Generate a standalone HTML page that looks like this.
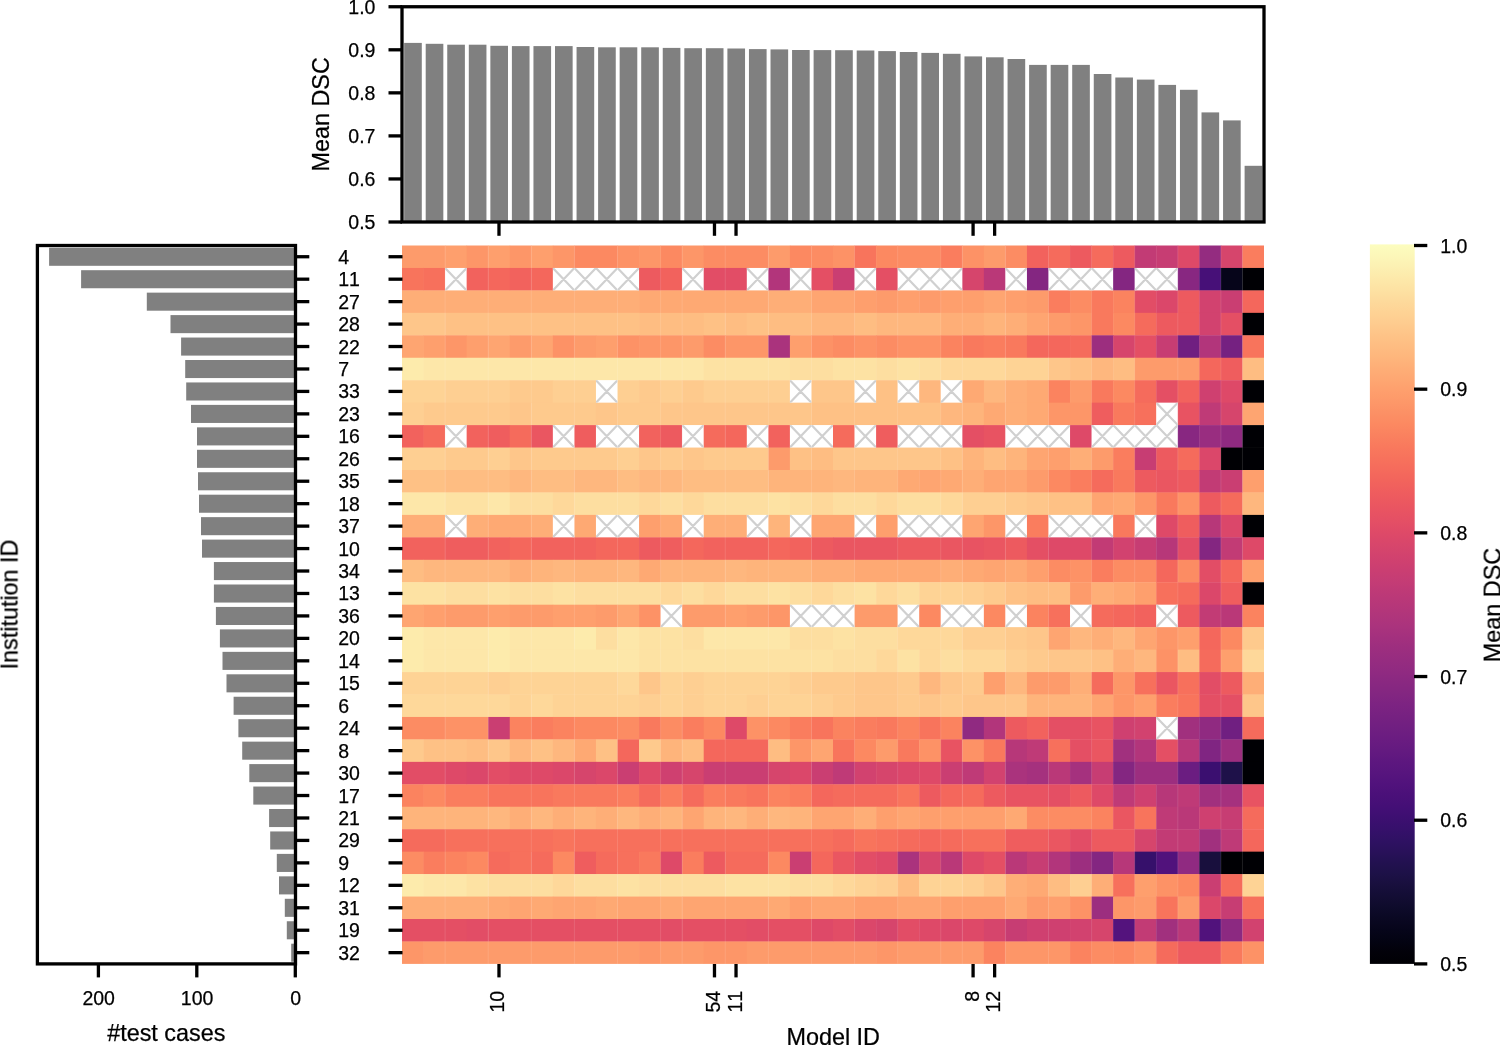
<!DOCTYPE html>
<html><head><meta charset="utf-8"><title>Mean DSC heatmap</title>
<style>html,body{margin:0;padding:0;background:#fff}svg{display:block}text{font-family:"Liberation Sans",sans-serif;fill:#000;stroke:#000;stroke-width:0.25px;font-kerning:none}.tx{filter:grayscale(1)}.t{font-size:19.5px}.l{font-size:23.4px}</style></head><body>
<svg width="1500" height="1045" viewBox="0 0 1500 1045">
<rect width="1500" height="1045" fill="#fff"/>
<g fill="#808080">
<rect x="404.15" y="42.9" width="17.64" height="179.1"/>
<rect x="425.7" y="43.8" width="17.64" height="178.2"/>
<rect x="447.25" y="44.7" width="17.64" height="177.3"/>
<rect x="468.81" y="44.7" width="17.64" height="177.3"/>
<rect x="490.36" y="45.8" width="17.64" height="176.2"/>
<rect x="511.9" y="46.1" width="17.64" height="175.9"/>
<rect x="533.45" y="46.1" width="17.64" height="175.9"/>
<rect x="555" y="46.1" width="17.64" height="175.9"/>
<rect x="576.56" y="47" width="17.64" height="175"/>
<rect x="598.11" y="47.3" width="17.64" height="174.7"/>
<rect x="619.65" y="47.3" width="17.64" height="174.7"/>
<rect x="641.21" y="47.3" width="17.64" height="174.7"/>
<rect x="662.75" y="47.9" width="17.64" height="174.1"/>
<rect x="684.31" y="48.2" width="17.64" height="173.8"/>
<rect x="705.86" y="48.2" width="17.64" height="173.8"/>
<rect x="727.4" y="48.5" width="17.64" height="173.5"/>
<rect x="748.96" y="49.1" width="17.64" height="172.9"/>
<rect x="770.51" y="49.4" width="17.64" height="172.6"/>
<rect x="792.06" y="50" width="17.64" height="172"/>
<rect x="813.61" y="50.1" width="17.64" height="171.9"/>
<rect x="835.15" y="50.2" width="17.64" height="171.8"/>
<rect x="856.71" y="50.5" width="17.64" height="171.5"/>
<rect x="878.26" y="51.1" width="17.64" height="170.9"/>
<rect x="899.81" y="52" width="17.64" height="170"/>
<rect x="921.36" y="52.9" width="17.64" height="169.1"/>
<rect x="942.91" y="53.8" width="17.64" height="168.2"/>
<rect x="964.46" y="56.4" width="17.64" height="165.6"/>
<rect x="986" y="57.3" width="17.64" height="164.7"/>
<rect x="1007.56" y="59" width="17.64" height="163"/>
<rect x="1029.11" y="64.9" width="17.64" height="157.1"/>
<rect x="1050.66" y="64.9" width="17.64" height="157.1"/>
<rect x="1072.2" y="64.9" width="17.64" height="157.1"/>
<rect x="1093.76" y="74" width="17.64" height="148"/>
<rect x="1115.31" y="77.5" width="17.64" height="144.5"/>
<rect x="1136.86" y="79.6" width="17.64" height="142.4"/>
<rect x="1158.41" y="84.9" width="17.64" height="137.1"/>
<rect x="1179.95" y="89.8" width="17.64" height="132.2"/>
<rect x="1201.51" y="112.4" width="17.64" height="109.6"/>
<rect x="1223.06" y="120.4" width="17.64" height="101.6"/>
<rect x="1244.61" y="165.8" width="17.64" height="56.2"/>
</g>
<g stroke="#000" stroke-width="3.3" fill="none">
<rect x="402" y="6.75" width="862" height="215.25"/>
<path d="M402 6.75H388.5"/>
<path d="M402 49.8H388.5"/>
<path d="M402 92.85H388.5"/>
<path d="M402 135.9H388.5"/>
<path d="M402 178.95H388.5"/>
<path d="M402 222H388.5"/>
<path d="M498.98 222V235.8"/>
<path d="M714.48 222V235.8"/>
<path d="M736.03 222V235.8"/>
<path d="M973.08 222V235.8"/>
<path d="M994.62 222V235.8"/>
</g>
<g fill="#808080">
<rect x="49.1" y="247.75" width="246.4" height="18.06"/>
<rect x="81.1" y="270.19" width="214.4" height="18.06"/>
<rect x="146.8" y="292.64" width="148.7" height="18.06"/>
<rect x="170.5" y="315.1" width="125" height="18.06"/>
<rect x="181.1" y="337.54" width="114.4" height="18.06"/>
<rect x="185.2" y="360" width="110.3" height="18.06"/>
<rect x="186.2" y="382.44" width="109.3" height="18.06"/>
<rect x="191" y="404.89" width="104.5" height="18.06"/>
<rect x="197" y="427.35" width="98.5" height="18.06"/>
<rect x="197" y="449.79" width="98.5" height="18.06"/>
<rect x="198" y="472.25" width="97.5" height="18.06"/>
<rect x="199" y="494.69" width="96.5" height="18.06"/>
<rect x="201" y="517.14" width="94.5" height="18.06"/>
<rect x="202" y="539.6" width="93.5" height="18.06"/>
<rect x="213.9" y="562.04" width="81.6" height="18.06"/>
<rect x="213.9" y="584.5" width="81.6" height="18.06"/>
<rect x="215.9" y="606.94" width="79.6" height="18.06"/>
<rect x="219.9" y="629.39" width="75.6" height="18.06"/>
<rect x="222.5" y="651.85" width="73" height="18.06"/>
<rect x="226.5" y="674.3" width="69" height="18.06"/>
<rect x="233.6" y="696.75" width="61.9" height="18.06"/>
<rect x="238.4" y="719.19" width="57.1" height="18.06"/>
<rect x="242.2" y="741.64" width="53.3" height="18.06"/>
<rect x="249.3" y="764.1" width="46.2" height="18.06"/>
<rect x="253.3" y="786.54" width="42.2" height="18.06"/>
<rect x="269.1" y="809" width="26.4" height="18.06"/>
<rect x="270.2" y="831.45" width="25.3" height="18.06"/>
<rect x="276.8" y="853.89" width="18.7" height="18.06"/>
<rect x="279" y="876.35" width="16.5" height="18.06"/>
<rect x="284.8" y="898.79" width="10.7" height="18.06"/>
<rect x="286.8" y="921.25" width="8.7" height="18.06"/>
<rect x="291.2" y="943.7" width="4.3" height="18.06"/>
</g>
<g stroke="#000" stroke-width="3.3" fill="none">
<rect x="37.4" y="245.5" width="258.1" height="718.4"/>
<path d="M295.5 256.73H309.3"/>
<path d="M295.5 279.18H309.3"/>
<path d="M295.5 301.62H309.3"/>
<path d="M295.5 324.07H309.3"/>
<path d="M295.5 346.52H309.3"/>
<path d="M295.5 368.98H309.3"/>
<path d="M295.5 391.42H309.3"/>
<path d="M295.5 413.88H309.3"/>
<path d="M295.5 436.32H309.3"/>
<path d="M295.5 458.77H309.3"/>
<path d="M295.5 481.23H309.3"/>
<path d="M295.5 503.68H309.3"/>
<path d="M295.5 526.12H309.3"/>
<path d="M295.5 548.58H309.3"/>
<path d="M295.5 571.02H309.3"/>
<path d="M295.5 593.47H309.3"/>
<path d="M295.5 615.92H309.3"/>
<path d="M295.5 638.38H309.3"/>
<path d="M295.5 660.83H309.3"/>
<path d="M295.5 683.27H309.3"/>
<path d="M295.5 705.72H309.3"/>
<path d="M295.5 728.17H309.3"/>
<path d="M295.5 750.62H309.3"/>
<path d="M295.5 773.07H309.3"/>
<path d="M295.5 795.52H309.3"/>
<path d="M295.5 817.98H309.3"/>
<path d="M295.5 840.42H309.3"/>
<path d="M295.5 862.88H309.3"/>
<path d="M295.5 885.32H309.3"/>
<path d="M295.5 907.77H309.3"/>
<path d="M295.5 930.23H309.3"/>
<path d="M295.5 952.67H309.3"/>
<path d="M98.4 963.9V977.4"/>
<path d="M196.8 963.9V977.4"/>
<path d="M295.3 963.9V977.4"/>
<path d="M498.98 963.9V977.4"/>
<path d="M714.48 963.9V977.4"/>
<path d="M736.03 963.9V977.4"/>
<path d="M973.08 963.9V977.4"/>
<path d="M994.62 963.9V977.4"/>
</g>
<g>
<rect x="402" y="245.5" width="43.5" height="22.85" fill="#fd9b6b"/>
<rect x="445.1" y="245.5" width="21.95" height="22.85" fill="#fe9f6d"/>
<rect x="466.65" y="245.5" width="21.95" height="22.85" fill="#fd9668"/>
<rect x="488.2" y="245.5" width="21.95" height="22.85" fill="#fe9f6d"/>
<rect x="509.75" y="245.5" width="21.95" height="22.85" fill="#fd9668"/>
<rect x="531.3" y="245.5" width="21.95" height="22.85" fill="#fe9f6d"/>
<rect x="552.85" y="245.5" width="21.95" height="22.85" fill="#fd9668"/>
<rect x="574.4" y="245.5" width="43.5" height="22.85" fill="#fc8961"/>
<rect x="617.5" y="245.5" width="21.95" height="22.85" fill="#fd9266"/>
<rect x="639.05" y="245.5" width="21.95" height="22.85" fill="#fd9668"/>
<rect x="660.6" y="245.5" width="21.95" height="22.85" fill="#fc8961"/>
<rect x="682.15" y="245.5" width="21.95" height="22.85" fill="#fd9668"/>
<rect x="703.7" y="245.5" width="65.05" height="22.85" fill="#fc8c63"/>
<rect x="768.35" y="245.5" width="21.95" height="22.85" fill="#fd9b6b"/>
<rect x="789.9" y="245.5" width="21.95" height="22.85" fill="#fc8961"/>
<rect x="811.45" y="245.5" width="21.95" height="22.85" fill="#fc8c63"/>
<rect x="833" y="245.5" width="21.95" height="22.85" fill="#fd9266"/>
<rect x="854.55" y="245.5" width="21.95" height="22.85" fill="#f8745c"/>
<rect x="876.1" y="245.5" width="21.95" height="22.85" fill="#fc8961"/>
<rect x="897.65" y="245.5" width="43.5" height="22.85" fill="#fc8c63"/>
<rect x="940.75" y="245.5" width="21.95" height="22.85" fill="#fa7d5e"/>
<rect x="962.3" y="245.5" width="21.95" height="22.85" fill="#fd9266"/>
<rect x="983.85" y="245.5" width="21.95" height="22.85" fill="#fd9b6b"/>
<rect x="1005.4" y="245.5" width="21.95" height="22.85" fill="#fc8c63"/>
<rect x="1026.95" y="245.5" width="21.95" height="22.85" fill="#f2625d"/>
<rect x="1048.5" y="245.5" width="21.95" height="22.85" fill="#f56b5c"/>
<rect x="1070.05" y="245.5" width="21.95" height="22.85" fill="#ed5a5f"/>
<rect x="1091.6" y="245.5" width="21.95" height="22.85" fill="#f56b5c"/>
<rect x="1113.15" y="245.5" width="21.95" height="22.85" fill="#ed5a5f"/>
<rect x="1134.7" y="245.5" width="21.95" height="22.85" fill="#c23b75"/>
<rect x="1156.25" y="245.5" width="21.95" height="22.85" fill="#c73d73"/>
<rect x="1177.8" y="245.5" width="21.95" height="22.85" fill="#de4968"/>
<rect x="1199.35" y="245.5" width="21.95" height="22.85" fill="#942c80"/>
<rect x="1220.9" y="245.5" width="21.95" height="22.85" fill="#d6456c"/>
<rect x="1242.45" y="245.5" width="21.55" height="22.85" fill="#fa7d5e"/>
<rect x="402" y="267.95" width="21.95" height="22.85" fill="#f8745c"/>
<rect x="423.55" y="267.95" width="21.95" height="22.85" fill="#f7705c"/>
<rect x="445.1" y="267.95" width="21.95" height="22.85" fill="#fff"/>
<rect x="466.65" y="267.95" width="21.95" height="22.85" fill="#f2625d"/>
<rect x="488.2" y="267.95" width="21.95" height="22.85" fill="#f4675c"/>
<rect x="509.75" y="267.95" width="21.95" height="22.85" fill="#f2625d"/>
<rect x="531.3" y="267.95" width="21.95" height="22.85" fill="#f4675c"/>
<rect x="552.85" y="267.95" width="86.6" height="22.85" fill="#fff"/>
<rect x="639.05" y="267.95" width="21.95" height="22.85" fill="#ed5a5f"/>
<rect x="660.6" y="267.95" width="21.95" height="22.85" fill="#f2625d"/>
<rect x="682.15" y="267.95" width="21.95" height="22.85" fill="#fff"/>
<rect x="703.7" y="267.95" width="43.5" height="22.85" fill="#e24d66"/>
<rect x="746.8" y="267.95" width="21.95" height="22.85" fill="#fff"/>
<rect x="768.35" y="267.95" width="21.95" height="22.85" fill="#b2357b"/>
<rect x="789.9" y="267.95" width="21.95" height="22.85" fill="#fff"/>
<rect x="811.45" y="267.95" width="21.95" height="22.85" fill="#e44f64"/>
<rect x="833" y="267.95" width="21.95" height="22.85" fill="#ca3e72"/>
<rect x="854.55" y="267.95" width="21.95" height="22.85" fill="#fff"/>
<rect x="876.1" y="267.95" width="21.95" height="22.85" fill="#e44f64"/>
<rect x="897.65" y="267.95" width="65.05" height="22.85" fill="#fff"/>
<rect x="962.3" y="267.95" width="21.95" height="22.85" fill="#d6456c"/>
<rect x="983.85" y="267.95" width="21.95" height="22.85" fill="#ba3878"/>
<rect x="1005.4" y="267.95" width="21.95" height="22.85" fill="#fff"/>
<rect x="1026.95" y="267.95" width="21.95" height="22.85" fill="#842681"/>
<rect x="1048.5" y="267.95" width="65.05" height="22.85" fill="#fff"/>
<rect x="1113.15" y="267.95" width="21.95" height="22.85" fill="#842681"/>
<rect x="1134.7" y="267.95" width="43.5" height="22.85" fill="#fff"/>
<rect x="1177.8" y="267.95" width="21.95" height="22.85" fill="#882781"/>
<rect x="1199.35" y="267.95" width="21.95" height="22.85" fill="#471078"/>
<rect x="1220.9" y="267.95" width="21.95" height="22.85" fill="#06051a"/>
<rect x="1242.45" y="267.95" width="21.55" height="22.85" fill="#000004"/>
<rect x="402" y="290.4" width="237.45" height="22.85" fill="#feae77"/>
<rect x="639.05" y="290.4" width="129.7" height="22.85" fill="#fea973"/>
<rect x="768.35" y="290.4" width="43.5" height="22.85" fill="#feae77"/>
<rect x="811.45" y="290.4" width="43.5" height="22.85" fill="#fea571"/>
<rect x="854.55" y="290.4" width="21.95" height="22.85" fill="#fe9f6d"/>
<rect x="876.1" y="290.4" width="21.95" height="22.85" fill="#fd9b6b"/>
<rect x="897.65" y="290.4" width="21.95" height="22.85" fill="#fe9f6d"/>
<rect x="919.2" y="290.4" width="21.95" height="22.85" fill="#fd9b6b"/>
<rect x="940.75" y="290.4" width="43.5" height="22.85" fill="#fe9f6d"/>
<rect x="983.85" y="290.4" width="21.95" height="22.85" fill="#fea571"/>
<rect x="1005.4" y="290.4" width="21.95" height="22.85" fill="#fe9f6d"/>
<rect x="1026.95" y="290.4" width="21.95" height="22.85" fill="#fd9b6b"/>
<rect x="1048.5" y="290.4" width="21.95" height="22.85" fill="#fa7d5e"/>
<rect x="1070.05" y="290.4" width="21.95" height="22.85" fill="#fc8c63"/>
<rect x="1091.6" y="290.4" width="21.95" height="22.85" fill="#f9795d"/>
<rect x="1113.15" y="290.4" width="21.95" height="22.85" fill="#fb835f"/>
<rect x="1134.7" y="290.4" width="21.95" height="22.85" fill="#e24d66"/>
<rect x="1156.25" y="290.4" width="21.95" height="22.85" fill="#db476a"/>
<rect x="1177.8" y="290.4" width="21.95" height="22.85" fill="#ed5a5f"/>
<rect x="1199.35" y="290.4" width="21.95" height="22.85" fill="#d2426f"/>
<rect x="1220.9" y="290.4" width="21.95" height="22.85" fill="#ca3e72"/>
<rect x="1242.45" y="290.4" width="21.55" height="22.85" fill="#f4675c"/>
<rect x="402" y="312.85" width="43.5" height="22.85" fill="#fec68a"/>
<rect x="445.1" y="312.85" width="194.35" height="22.85" fill="#fec185"/>
<rect x="639.05" y="312.85" width="65.05" height="22.85" fill="#febd82"/>
<rect x="703.7" y="312.85" width="21.95" height="22.85" fill="#fec185"/>
<rect x="725.25" y="312.85" width="21.95" height="22.85" fill="#febd82"/>
<rect x="746.8" y="312.85" width="21.95" height="22.85" fill="#fec185"/>
<rect x="768.35" y="312.85" width="43.5" height="22.85" fill="#febd82"/>
<rect x="811.45" y="312.85" width="43.5" height="22.85" fill="#feb77e"/>
<rect x="854.55" y="312.85" width="21.95" height="22.85" fill="#febd82"/>
<rect x="876.1" y="312.85" width="65.05" height="22.85" fill="#feb77e"/>
<rect x="940.75" y="312.85" width="43.5" height="22.85" fill="#feae77"/>
<rect x="983.85" y="312.85" width="21.95" height="22.85" fill="#feb47b"/>
<rect x="1005.4" y="312.85" width="21.95" height="22.85" fill="#feae77"/>
<rect x="1026.95" y="312.85" width="21.95" height="22.85" fill="#fea571"/>
<rect x="1048.5" y="312.85" width="21.95" height="22.85" fill="#fd9b6b"/>
<rect x="1070.05" y="312.85" width="21.95" height="22.85" fill="#fd9668"/>
<rect x="1091.6" y="312.85" width="21.95" height="22.85" fill="#f9795d"/>
<rect x="1113.15" y="312.85" width="21.95" height="22.85" fill="#fc8961"/>
<rect x="1134.7" y="312.85" width="21.95" height="22.85" fill="#f56b5c"/>
<rect x="1156.25" y="312.85" width="43.5" height="22.85" fill="#ed5a5f"/>
<rect x="1199.35" y="312.85" width="21.95" height="22.85" fill="#d2426f"/>
<rect x="1220.9" y="312.85" width="21.95" height="22.85" fill="#e44f64"/>
<rect x="1242.45" y="312.85" width="21.55" height="22.85" fill="#000004"/>
<rect x="402" y="335.3" width="21.95" height="22.85" fill="#fea571"/>
<rect x="423.55" y="335.3" width="21.95" height="22.85" fill="#fe9f6d"/>
<rect x="445.1" y="335.3" width="21.95" height="22.85" fill="#fd9668"/>
<rect x="466.65" y="335.3" width="21.95" height="22.85" fill="#fe9f6d"/>
<rect x="488.2" y="335.3" width="21.95" height="22.85" fill="#fea571"/>
<rect x="509.75" y="335.3" width="21.95" height="22.85" fill="#fd9b6b"/>
<rect x="531.3" y="335.3" width="21.95" height="22.85" fill="#fea571"/>
<rect x="552.85" y="335.3" width="21.95" height="22.85" fill="#fd9266"/>
<rect x="574.4" y="335.3" width="21.95" height="22.85" fill="#fd9b6b"/>
<rect x="595.95" y="335.3" width="21.95" height="22.85" fill="#fe9f6d"/>
<rect x="617.5" y="335.3" width="21.95" height="22.85" fill="#fd9266"/>
<rect x="639.05" y="335.3" width="43.5" height="22.85" fill="#fd9668"/>
<rect x="682.15" y="335.3" width="21.95" height="22.85" fill="#fd9b6b"/>
<rect x="703.7" y="335.3" width="21.95" height="22.85" fill="#fc8c63"/>
<rect x="725.25" y="335.3" width="43.5" height="22.85" fill="#fd9668"/>
<rect x="768.35" y="335.3" width="21.95" height="22.85" fill="#aa337d"/>
<rect x="789.9" y="335.3" width="21.95" height="22.85" fill="#fe9f6d"/>
<rect x="811.45" y="335.3" width="21.95" height="22.85" fill="#fd9266"/>
<rect x="833" y="335.3" width="21.95" height="22.85" fill="#fc8c63"/>
<rect x="854.55" y="335.3" width="21.95" height="22.85" fill="#fd9266"/>
<rect x="876.1" y="335.3" width="21.95" height="22.85" fill="#fc8c63"/>
<rect x="897.65" y="335.3" width="43.5" height="22.85" fill="#fd9266"/>
<rect x="940.75" y="335.3" width="21.95" height="22.85" fill="#fb835f"/>
<rect x="962.3" y="335.3" width="21.95" height="22.85" fill="#f9795d"/>
<rect x="983.85" y="335.3" width="21.95" height="22.85" fill="#fa7d5e"/>
<rect x="1005.4" y="335.3" width="21.95" height="22.85" fill="#f9795d"/>
<rect x="1026.95" y="335.3" width="43.5" height="22.85" fill="#f4675c"/>
<rect x="1070.05" y="335.3" width="21.95" height="22.85" fill="#f56b5c"/>
<rect x="1091.6" y="335.3" width="21.95" height="22.85" fill="#9c2e7f"/>
<rect x="1113.15" y="335.3" width="21.95" height="22.85" fill="#d6456c"/>
<rect x="1134.7" y="335.3" width="21.95" height="22.85" fill="#e44f64"/>
<rect x="1156.25" y="335.3" width="21.95" height="22.85" fill="#c73d73"/>
<rect x="1177.8" y="335.3" width="21.95" height="22.85" fill="#701f81"/>
<rect x="1199.35" y="335.3" width="21.95" height="22.85" fill="#b2357b"/>
<rect x="1220.9" y="335.3" width="21.95" height="22.85" fill="#752181"/>
<rect x="1242.45" y="335.3" width="21.55" height="22.85" fill="#f8745c"/>
<rect x="402" y="357.75" width="21.95" height="22.85" fill="#fdebac"/>
<rect x="423.55" y="357.75" width="280.55" height="22.85" fill="#fde7a9"/>
<rect x="703.7" y="357.75" width="86.6" height="22.85" fill="#fde2a3"/>
<rect x="789.9" y="357.75" width="43.5" height="22.85" fill="#fddea0"/>
<rect x="833" y="357.75" width="43.5" height="22.85" fill="#fde2a3"/>
<rect x="876.1" y="357.75" width="21.95" height="22.85" fill="#fddea0"/>
<rect x="897.65" y="357.75" width="21.95" height="22.85" fill="#fde2a3"/>
<rect x="919.2" y="357.75" width="21.95" height="22.85" fill="#fddea0"/>
<rect x="940.75" y="357.75" width="65.05" height="22.85" fill="#fed89a"/>
<rect x="1005.4" y="357.75" width="43.5" height="22.85" fill="#fed395"/>
<rect x="1048.5" y="357.75" width="21.95" height="22.85" fill="#fec68a"/>
<rect x="1070.05" y="357.75" width="21.95" height="22.85" fill="#fec185"/>
<rect x="1091.6" y="357.75" width="21.95" height="22.85" fill="#feb77e"/>
<rect x="1113.15" y="357.75" width="21.95" height="22.85" fill="#febd82"/>
<rect x="1134.7" y="357.75" width="65.05" height="22.85" fill="#fd9b6b"/>
<rect x="1199.35" y="357.75" width="21.95" height="22.85" fill="#f4675c"/>
<rect x="1220.9" y="357.75" width="21.95" height="22.85" fill="#ef5d5e"/>
<rect x="1242.45" y="357.75" width="21.55" height="22.85" fill="#febd82"/>
<rect x="402" y="380.2" width="43.5" height="22.85" fill="#fed395"/>
<rect x="445.1" y="380.2" width="65.05" height="22.85" fill="#fecf92"/>
<rect x="509.75" y="380.2" width="43.5" height="22.85" fill="#feca8d"/>
<rect x="552.85" y="380.2" width="43.5" height="22.85" fill="#fecf92"/>
<rect x="595.95" y="380.2" width="21.95" height="22.85" fill="#fff"/>
<rect x="617.5" y="380.2" width="21.95" height="22.85" fill="#fecf92"/>
<rect x="639.05" y="380.2" width="21.95" height="22.85" fill="#feca8d"/>
<rect x="660.6" y="380.2" width="21.95" height="22.85" fill="#fecf92"/>
<rect x="682.15" y="380.2" width="21.95" height="22.85" fill="#feca8d"/>
<rect x="703.7" y="380.2" width="86.6" height="22.85" fill="#fecf92"/>
<rect x="789.9" y="380.2" width="21.95" height="22.85" fill="#fff"/>
<rect x="811.45" y="380.2" width="43.5" height="22.85" fill="#fec68a"/>
<rect x="854.55" y="380.2" width="21.95" height="22.85" fill="#fff"/>
<rect x="876.1" y="380.2" width="21.95" height="22.85" fill="#fec185"/>
<rect x="897.65" y="380.2" width="21.95" height="22.85" fill="#fff"/>
<rect x="919.2" y="380.2" width="21.95" height="22.85" fill="#feb77e"/>
<rect x="940.75" y="380.2" width="21.95" height="22.85" fill="#fff"/>
<rect x="962.3" y="380.2" width="21.95" height="22.85" fill="#fea973"/>
<rect x="983.85" y="380.2" width="21.95" height="22.85" fill="#feb77e"/>
<rect x="1005.4" y="380.2" width="21.95" height="22.85" fill="#feae77"/>
<rect x="1026.95" y="380.2" width="21.95" height="22.85" fill="#fea973"/>
<rect x="1048.5" y="380.2" width="21.95" height="22.85" fill="#fb835f"/>
<rect x="1070.05" y="380.2" width="21.95" height="22.85" fill="#fd9b6b"/>
<rect x="1091.6" y="380.2" width="21.95" height="22.85" fill="#f9795d"/>
<rect x="1113.15" y="380.2" width="21.95" height="22.85" fill="#fc8961"/>
<rect x="1134.7" y="380.2" width="21.95" height="22.85" fill="#f56b5c"/>
<rect x="1156.25" y="380.2" width="21.95" height="22.85" fill="#e44f64"/>
<rect x="1177.8" y="380.2" width="21.95" height="22.85" fill="#f2625d"/>
<rect x="1199.35" y="380.2" width="21.95" height="22.85" fill="#cf4070"/>
<rect x="1220.9" y="380.2" width="21.95" height="22.85" fill="#de4968"/>
<rect x="1242.45" y="380.2" width="21.55" height="22.85" fill="#000004"/>
<rect x="402" y="402.65" width="21.95" height="22.85" fill="#fecf92"/>
<rect x="423.55" y="402.65" width="86.6" height="22.85" fill="#feca8d"/>
<rect x="509.75" y="402.65" width="21.95" height="22.85" fill="#fec68a"/>
<rect x="531.3" y="402.65" width="65.05" height="22.85" fill="#feca8d"/>
<rect x="595.95" y="402.65" width="21.95" height="22.85" fill="#fec68a"/>
<rect x="617.5" y="402.65" width="43.5" height="22.85" fill="#feca8d"/>
<rect x="660.6" y="402.65" width="151.25" height="22.85" fill="#fec68a"/>
<rect x="811.45" y="402.65" width="129.7" height="22.85" fill="#fec185"/>
<rect x="940.75" y="402.65" width="21.95" height="22.85" fill="#feb77e"/>
<rect x="962.3" y="402.65" width="21.95" height="22.85" fill="#feb47b"/>
<rect x="983.85" y="402.65" width="21.95" height="22.85" fill="#fea973"/>
<rect x="1005.4" y="402.65" width="21.95" height="22.85" fill="#feae77"/>
<rect x="1026.95" y="402.65" width="21.95" height="22.85" fill="#fea973"/>
<rect x="1048.5" y="402.65" width="43.5" height="22.85" fill="#fd9668"/>
<rect x="1091.6" y="402.65" width="21.95" height="22.85" fill="#ef5d5e"/>
<rect x="1113.15" y="402.65" width="21.95" height="22.85" fill="#f9795d"/>
<rect x="1134.7" y="402.65" width="21.95" height="22.85" fill="#f7705c"/>
<rect x="1156.25" y="402.65" width="21.95" height="22.85" fill="#fff"/>
<rect x="1177.8" y="402.65" width="21.95" height="22.85" fill="#e85362"/>
<rect x="1199.35" y="402.65" width="21.95" height="22.85" fill="#bf3a77"/>
<rect x="1220.9" y="402.65" width="21.95" height="22.85" fill="#d6456c"/>
<rect x="1242.45" y="402.65" width="21.55" height="22.85" fill="#fea571"/>
<rect x="402" y="425.1" width="21.95" height="22.85" fill="#f2625d"/>
<rect x="423.55" y="425.1" width="21.95" height="22.85" fill="#f56b5c"/>
<rect x="445.1" y="425.1" width="21.95" height="22.85" fill="#fff"/>
<rect x="466.65" y="425.1" width="21.95" height="22.85" fill="#f2625d"/>
<rect x="488.2" y="425.1" width="21.95" height="22.85" fill="#ef5d5e"/>
<rect x="509.75" y="425.1" width="21.95" height="22.85" fill="#f56b5c"/>
<rect x="531.3" y="425.1" width="21.95" height="22.85" fill="#ea5661"/>
<rect x="552.85" y="425.1" width="21.95" height="22.85" fill="#fff"/>
<rect x="574.4" y="425.1" width="21.95" height="22.85" fill="#ef5d5e"/>
<rect x="595.95" y="425.1" width="43.5" height="22.85" fill="#fff"/>
<rect x="639.05" y="425.1" width="21.95" height="22.85" fill="#f2625d"/>
<rect x="660.6" y="425.1" width="21.95" height="22.85" fill="#ed5a5f"/>
<rect x="682.15" y="425.1" width="21.95" height="22.85" fill="#fff"/>
<rect x="703.7" y="425.1" width="21.95" height="22.85" fill="#f56b5c"/>
<rect x="725.25" y="425.1" width="21.95" height="22.85" fill="#f4675c"/>
<rect x="746.8" y="425.1" width="21.95" height="22.85" fill="#fff"/>
<rect x="768.35" y="425.1" width="21.95" height="22.85" fill="#f2625d"/>
<rect x="789.9" y="425.1" width="43.5" height="22.85" fill="#fff"/>
<rect x="833" y="425.1" width="21.95" height="22.85" fill="#f56b5c"/>
<rect x="854.55" y="425.1" width="21.95" height="22.85" fill="#fff"/>
<rect x="876.1" y="425.1" width="21.95" height="22.85" fill="#ef5d5e"/>
<rect x="897.65" y="425.1" width="65.05" height="22.85" fill="#fff"/>
<rect x="962.3" y="425.1" width="21.95" height="22.85" fill="#e44f64"/>
<rect x="983.85" y="425.1" width="21.95" height="22.85" fill="#e85362"/>
<rect x="1005.4" y="425.1" width="65.05" height="22.85" fill="#fff"/>
<rect x="1070.05" y="425.1" width="21.95" height="22.85" fill="#de4968"/>
<rect x="1091.6" y="425.1" width="86.6" height="22.85" fill="#fff"/>
<rect x="1177.8" y="425.1" width="21.95" height="22.85" fill="#882781"/>
<rect x="1199.35" y="425.1" width="21.95" height="22.85" fill="#992d80"/>
<rect x="1220.9" y="425.1" width="21.95" height="22.85" fill="#902a81"/>
<rect x="1242.45" y="425.1" width="21.55" height="22.85" fill="#000004"/>
<rect x="402" y="447.55" width="43.5" height="22.85" fill="#fecf92"/>
<rect x="445.1" y="447.55" width="43.5" height="22.85" fill="#feca8d"/>
<rect x="488.2" y="447.55" width="21.95" height="22.85" fill="#fecf92"/>
<rect x="509.75" y="447.55" width="21.95" height="22.85" fill="#fec68a"/>
<rect x="531.3" y="447.55" width="86.6" height="22.85" fill="#feca8d"/>
<rect x="617.5" y="447.55" width="21.95" height="22.85" fill="#fecf92"/>
<rect x="639.05" y="447.55" width="21.95" height="22.85" fill="#fec68a"/>
<rect x="660.6" y="447.55" width="21.95" height="22.85" fill="#feca8d"/>
<rect x="682.15" y="447.55" width="21.95" height="22.85" fill="#fec68a"/>
<rect x="703.7" y="447.55" width="65.05" height="22.85" fill="#feca8d"/>
<rect x="768.35" y="447.55" width="21.95" height="22.85" fill="#fd9b6b"/>
<rect x="789.9" y="447.55" width="21.95" height="22.85" fill="#fec185"/>
<rect x="811.45" y="447.55" width="21.95" height="22.85" fill="#febd82"/>
<rect x="833" y="447.55" width="108.15" height="22.85" fill="#fec68a"/>
<rect x="940.75" y="447.55" width="21.95" height="22.85" fill="#fec185"/>
<rect x="962.3" y="447.55" width="21.95" height="22.85" fill="#feb47b"/>
<rect x="983.85" y="447.55" width="21.95" height="22.85" fill="#febd82"/>
<rect x="1005.4" y="447.55" width="21.95" height="22.85" fill="#feb47b"/>
<rect x="1026.95" y="447.55" width="21.95" height="22.85" fill="#fea571"/>
<rect x="1048.5" y="447.55" width="21.95" height="22.85" fill="#fe9f6d"/>
<rect x="1070.05" y="447.55" width="21.95" height="22.85" fill="#feae77"/>
<rect x="1091.6" y="447.55" width="21.95" height="22.85" fill="#fd9b6b"/>
<rect x="1113.15" y="447.55" width="21.95" height="22.85" fill="#fa7d5e"/>
<rect x="1134.7" y="447.55" width="21.95" height="22.85" fill="#c73d73"/>
<rect x="1156.25" y="447.55" width="21.95" height="22.85" fill="#ed5a5f"/>
<rect x="1177.8" y="447.55" width="21.95" height="22.85" fill="#f56b5c"/>
<rect x="1199.35" y="447.55" width="21.95" height="22.85" fill="#db476a"/>
<rect x="1220.9" y="447.55" width="43.1" height="22.85" fill="#000004"/>
<rect x="402" y="470" width="43.5" height="22.85" fill="#fec185"/>
<rect x="445.1" y="470" width="65.05" height="22.85" fill="#febd82"/>
<rect x="509.75" y="470" width="21.95" height="22.85" fill="#feb77e"/>
<rect x="531.3" y="470" width="43.5" height="22.85" fill="#febd82"/>
<rect x="574.4" y="470" width="43.5" height="22.85" fill="#feb77e"/>
<rect x="617.5" y="470" width="21.95" height="22.85" fill="#febd82"/>
<rect x="639.05" y="470" width="43.5" height="22.85" fill="#feb77e"/>
<rect x="682.15" y="470" width="86.6" height="22.85" fill="#febd82"/>
<rect x="768.35" y="470" width="65.05" height="22.85" fill="#feb47b"/>
<rect x="833" y="470" width="21.95" height="22.85" fill="#feb77e"/>
<rect x="854.55" y="470" width="43.5" height="22.85" fill="#feb47b"/>
<rect x="897.65" y="470" width="21.95" height="22.85" fill="#fea973"/>
<rect x="919.2" y="470" width="21.95" height="22.85" fill="#fea571"/>
<rect x="940.75" y="470" width="21.95" height="22.85" fill="#fea973"/>
<rect x="962.3" y="470" width="21.95" height="22.85" fill="#feae77"/>
<rect x="983.85" y="470" width="43.5" height="22.85" fill="#fea571"/>
<rect x="1026.95" y="470" width="21.95" height="22.85" fill="#fd9b6b"/>
<rect x="1048.5" y="470" width="21.95" height="22.85" fill="#fc8961"/>
<rect x="1070.05" y="470" width="21.95" height="22.85" fill="#fa7d5e"/>
<rect x="1091.6" y="470" width="21.95" height="22.85" fill="#f56b5c"/>
<rect x="1113.15" y="470" width="21.95" height="22.85" fill="#f9795d"/>
<rect x="1134.7" y="470" width="21.95" height="22.85" fill="#ed5a5f"/>
<rect x="1156.25" y="470" width="21.95" height="22.85" fill="#ea5661"/>
<rect x="1177.8" y="470" width="21.95" height="22.85" fill="#ed5a5f"/>
<rect x="1199.35" y="470" width="21.95" height="22.85" fill="#c23b75"/>
<rect x="1220.9" y="470" width="21.95" height="22.85" fill="#ca3e72"/>
<rect x="1242.45" y="470" width="21.55" height="22.85" fill="#fe9f6d"/>
<rect x="402" y="492.45" width="43.5" height="22.85" fill="#fde7a9"/>
<rect x="445.1" y="492.45" width="43.5" height="22.85" fill="#fde2a3"/>
<rect x="488.2" y="492.45" width="21.95" height="22.85" fill="#fde7a9"/>
<rect x="509.75" y="492.45" width="43.5" height="22.85" fill="#fddea0"/>
<rect x="552.85" y="492.45" width="21.95" height="22.85" fill="#fed89a"/>
<rect x="574.4" y="492.45" width="65.05" height="22.85" fill="#fddea0"/>
<rect x="639.05" y="492.45" width="21.95" height="22.85" fill="#fed89a"/>
<rect x="660.6" y="492.45" width="21.95" height="22.85" fill="#fddea0"/>
<rect x="682.15" y="492.45" width="21.95" height="22.85" fill="#fed89a"/>
<rect x="703.7" y="492.45" width="65.05" height="22.85" fill="#fddea0"/>
<rect x="768.35" y="492.45" width="21.95" height="22.85" fill="#fde2a3"/>
<rect x="789.9" y="492.45" width="21.95" height="22.85" fill="#fddea0"/>
<rect x="811.45" y="492.45" width="21.95" height="22.85" fill="#fed89a"/>
<rect x="833" y="492.45" width="43.5" height="22.85" fill="#fddea0"/>
<rect x="876.1" y="492.45" width="21.95" height="22.85" fill="#fed89a"/>
<rect x="897.65" y="492.45" width="43.5" height="22.85" fill="#fddea0"/>
<rect x="940.75" y="492.45" width="21.95" height="22.85" fill="#fed89a"/>
<rect x="962.3" y="492.45" width="43.5" height="22.85" fill="#fecf92"/>
<rect x="1005.4" y="492.45" width="21.95" height="22.85" fill="#feca8d"/>
<rect x="1026.95" y="492.45" width="21.95" height="22.85" fill="#fec68a"/>
<rect x="1048.5" y="492.45" width="43.5" height="22.85" fill="#fec185"/>
<rect x="1091.6" y="492.45" width="21.95" height="22.85" fill="#fea571"/>
<rect x="1113.15" y="492.45" width="21.95" height="22.85" fill="#fea973"/>
<rect x="1134.7" y="492.45" width="21.95" height="22.85" fill="#fd9668"/>
<rect x="1156.25" y="492.45" width="21.95" height="22.85" fill="#f9795d"/>
<rect x="1177.8" y="492.45" width="21.95" height="22.85" fill="#fd9266"/>
<rect x="1199.35" y="492.45" width="21.95" height="22.85" fill="#ed5a5f"/>
<rect x="1220.9" y="492.45" width="21.95" height="22.85" fill="#f56b5c"/>
<rect x="1242.45" y="492.45" width="21.55" height="22.85" fill="#feb77e"/>
<rect x="402" y="514.9" width="43.5" height="22.85" fill="#feae77"/>
<rect x="445.1" y="514.9" width="21.95" height="22.85" fill="#fff"/>
<rect x="466.65" y="514.9" width="21.95" height="22.85" fill="#feae77"/>
<rect x="488.2" y="514.9" width="43.5" height="22.85" fill="#fea973"/>
<rect x="531.3" y="514.9" width="21.95" height="22.85" fill="#feae77"/>
<rect x="552.85" y="514.9" width="21.95" height="22.85" fill="#fff"/>
<rect x="574.4" y="514.9" width="21.95" height="22.85" fill="#fea973"/>
<rect x="595.95" y="514.9" width="43.5" height="22.85" fill="#fff"/>
<rect x="639.05" y="514.9" width="21.95" height="22.85" fill="#fe9f6d"/>
<rect x="660.6" y="514.9" width="21.95" height="22.85" fill="#fea973"/>
<rect x="682.15" y="514.9" width="21.95" height="22.85" fill="#fff"/>
<rect x="703.7" y="514.9" width="43.5" height="22.85" fill="#feae77"/>
<rect x="746.8" y="514.9" width="21.95" height="22.85" fill="#fff"/>
<rect x="768.35" y="514.9" width="21.95" height="22.85" fill="#feb47b"/>
<rect x="789.9" y="514.9" width="21.95" height="22.85" fill="#fff"/>
<rect x="811.45" y="514.9" width="43.5" height="22.85" fill="#fea571"/>
<rect x="854.55" y="514.9" width="21.95" height="22.85" fill="#fff"/>
<rect x="876.1" y="514.9" width="21.95" height="22.85" fill="#fe9f6d"/>
<rect x="897.65" y="514.9" width="65.05" height="22.85" fill="#fff"/>
<rect x="962.3" y="514.9" width="21.95" height="22.85" fill="#fea571"/>
<rect x="983.85" y="514.9" width="21.95" height="22.85" fill="#fd9668"/>
<rect x="1005.4" y="514.9" width="21.95" height="22.85" fill="#fff"/>
<rect x="1026.95" y="514.9" width="21.95" height="22.85" fill="#fa7d5e"/>
<rect x="1048.5" y="514.9" width="65.05" height="22.85" fill="#fff"/>
<rect x="1113.15" y="514.9" width="21.95" height="22.85" fill="#f9795d"/>
<rect x="1134.7" y="514.9" width="21.95" height="22.85" fill="#fff"/>
<rect x="1156.25" y="514.9" width="21.95" height="22.85" fill="#de4968"/>
<rect x="1177.8" y="514.9" width="21.95" height="22.85" fill="#ef5d5e"/>
<rect x="1199.35" y="514.9" width="21.95" height="22.85" fill="#b73779"/>
<rect x="1220.9" y="514.9" width="21.95" height="22.85" fill="#db476a"/>
<rect x="1242.45" y="514.9" width="21.55" height="22.85" fill="#000004"/>
<rect x="402" y="537.35" width="43.5" height="22.85" fill="#f2625d"/>
<rect x="445.1" y="537.35" width="43.5" height="22.85" fill="#ef5d5e"/>
<rect x="488.2" y="537.35" width="21.95" height="22.85" fill="#f2625d"/>
<rect x="509.75" y="537.35" width="21.95" height="22.85" fill="#f4675c"/>
<rect x="531.3" y="537.35" width="65.05" height="22.85" fill="#f2625d"/>
<rect x="595.95" y="537.35" width="43.5" height="22.85" fill="#f4675c"/>
<rect x="639.05" y="537.35" width="21.95" height="22.85" fill="#ed5a5f"/>
<rect x="660.6" y="537.35" width="21.95" height="22.85" fill="#ef5d5e"/>
<rect x="682.15" y="537.35" width="21.95" height="22.85" fill="#f4675c"/>
<rect x="703.7" y="537.35" width="65.05" height="22.85" fill="#f2625d"/>
<rect x="768.35" y="537.35" width="21.95" height="22.85" fill="#f4675c"/>
<rect x="789.9" y="537.35" width="21.95" height="22.85" fill="#f2625d"/>
<rect x="811.45" y="537.35" width="21.95" height="22.85" fill="#ed5a5f"/>
<rect x="833" y="537.35" width="65.05" height="22.85" fill="#ea5661"/>
<rect x="897.65" y="537.35" width="43.5" height="22.85" fill="#ed5a5f"/>
<rect x="940.75" y="537.35" width="21.95" height="22.85" fill="#ea5661"/>
<rect x="962.3" y="537.35" width="21.95" height="22.85" fill="#e85362"/>
<rect x="983.85" y="537.35" width="21.95" height="22.85" fill="#ea5661"/>
<rect x="1005.4" y="537.35" width="21.95" height="22.85" fill="#ed5a5f"/>
<rect x="1026.95" y="537.35" width="21.95" height="22.85" fill="#e44f64"/>
<rect x="1048.5" y="537.35" width="43.5" height="22.85" fill="#de4968"/>
<rect x="1091.6" y="537.35" width="21.95" height="22.85" fill="#c23b75"/>
<rect x="1113.15" y="537.35" width="21.95" height="22.85" fill="#d2426f"/>
<rect x="1134.7" y="537.35" width="21.95" height="22.85" fill="#c73d73"/>
<rect x="1156.25" y="537.35" width="21.95" height="22.85" fill="#b73779"/>
<rect x="1177.8" y="537.35" width="21.95" height="22.85" fill="#e24d66"/>
<rect x="1199.35" y="537.35" width="21.95" height="22.85" fill="#842681"/>
<rect x="1220.9" y="537.35" width="21.95" height="22.85" fill="#c23b75"/>
<rect x="1242.45" y="537.35" width="21.55" height="22.85" fill="#de4968"/>
<rect x="402" y="559.8" width="21.95" height="22.85" fill="#febd82"/>
<rect x="423.55" y="559.8" width="86.6" height="22.85" fill="#feb77e"/>
<rect x="509.75" y="559.8" width="21.95" height="22.85" fill="#feae77"/>
<rect x="531.3" y="559.8" width="21.95" height="22.85" fill="#feb47b"/>
<rect x="552.85" y="559.8" width="21.95" height="22.85" fill="#feb77e"/>
<rect x="574.4" y="559.8" width="43.5" height="22.85" fill="#feb47b"/>
<rect x="617.5" y="559.8" width="21.95" height="22.85" fill="#feb77e"/>
<rect x="639.05" y="559.8" width="21.95" height="22.85" fill="#fea973"/>
<rect x="660.6" y="559.8" width="65.05" height="22.85" fill="#feb47b"/>
<rect x="725.25" y="559.8" width="21.95" height="22.85" fill="#feb77e"/>
<rect x="746.8" y="559.8" width="65.05" height="22.85" fill="#feb47b"/>
<rect x="811.45" y="559.8" width="43.5" height="22.85" fill="#feae77"/>
<rect x="854.55" y="559.8" width="86.6" height="22.85" fill="#fea973"/>
<rect x="940.75" y="559.8" width="21.95" height="22.85" fill="#feae77"/>
<rect x="962.3" y="559.8" width="21.95" height="22.85" fill="#fea973"/>
<rect x="983.85" y="559.8" width="21.95" height="22.85" fill="#fea571"/>
<rect x="1005.4" y="559.8" width="21.95" height="22.85" fill="#fea973"/>
<rect x="1026.95" y="559.8" width="21.95" height="22.85" fill="#fe9f6d"/>
<rect x="1048.5" y="559.8" width="21.95" height="22.85" fill="#fc8c63"/>
<rect x="1070.05" y="559.8" width="21.95" height="22.85" fill="#fd9266"/>
<rect x="1091.6" y="559.8" width="21.95" height="22.85" fill="#fa7d5e"/>
<rect x="1113.15" y="559.8" width="43.5" height="22.85" fill="#fc8c63"/>
<rect x="1156.25" y="559.8" width="21.95" height="22.85" fill="#f4675c"/>
<rect x="1177.8" y="559.8" width="21.95" height="22.85" fill="#fc8c63"/>
<rect x="1199.35" y="559.8" width="21.95" height="22.85" fill="#e24d66"/>
<rect x="1220.9" y="559.8" width="21.95" height="22.85" fill="#f4675c"/>
<rect x="1242.45" y="559.8" width="21.55" height="22.85" fill="#fe9f6d"/>
<rect x="402" y="582.25" width="43.5" height="22.85" fill="#fde2a3"/>
<rect x="445.1" y="582.25" width="43.5" height="22.85" fill="#fddea0"/>
<rect x="488.2" y="582.25" width="21.95" height="22.85" fill="#fde2a3"/>
<rect x="509.75" y="582.25" width="43.5" height="22.85" fill="#fddea0"/>
<rect x="552.85" y="582.25" width="21.95" height="22.85" fill="#fde2a3"/>
<rect x="574.4" y="582.25" width="86.6" height="22.85" fill="#fddea0"/>
<rect x="660.6" y="582.25" width="21.95" height="22.85" fill="#fed89a"/>
<rect x="682.15" y="582.25" width="21.95" height="22.85" fill="#fddea0"/>
<rect x="703.7" y="582.25" width="21.95" height="22.85" fill="#fed89a"/>
<rect x="725.25" y="582.25" width="43.5" height="22.85" fill="#fddea0"/>
<rect x="768.35" y="582.25" width="21.95" height="22.85" fill="#fde2a3"/>
<rect x="789.9" y="582.25" width="21.95" height="22.85" fill="#fddea0"/>
<rect x="811.45" y="582.25" width="21.95" height="22.85" fill="#fed89a"/>
<rect x="833" y="582.25" width="21.95" height="22.85" fill="#fddea0"/>
<rect x="854.55" y="582.25" width="21.95" height="22.85" fill="#fde2a3"/>
<rect x="876.1" y="582.25" width="21.95" height="22.85" fill="#fed89a"/>
<rect x="897.65" y="582.25" width="21.95" height="22.85" fill="#fddea0"/>
<rect x="919.2" y="582.25" width="43.5" height="22.85" fill="#fed395"/>
<rect x="962.3" y="582.25" width="21.95" height="22.85" fill="#fecf92"/>
<rect x="983.85" y="582.25" width="21.95" height="22.85" fill="#feca8d"/>
<rect x="1005.4" y="582.25" width="21.95" height="22.85" fill="#fec185"/>
<rect x="1026.95" y="582.25" width="43.5" height="22.85" fill="#febd82"/>
<rect x="1070.05" y="582.25" width="21.95" height="22.85" fill="#fd9b6b"/>
<rect x="1091.6" y="582.25" width="21.95" height="22.85" fill="#feae77"/>
<rect x="1113.15" y="582.25" width="21.95" height="22.85" fill="#fea973"/>
<rect x="1134.7" y="582.25" width="21.95" height="22.85" fill="#fe9f6d"/>
<rect x="1156.25" y="582.25" width="21.95" height="22.85" fill="#f7705c"/>
<rect x="1177.8" y="582.25" width="21.95" height="22.85" fill="#f56b5c"/>
<rect x="1199.35" y="582.25" width="21.95" height="22.85" fill="#db476a"/>
<rect x="1220.9" y="582.25" width="21.95" height="22.85" fill="#ef5d5e"/>
<rect x="1242.45" y="582.25" width="21.55" height="22.85" fill="#000004"/>
<rect x="402" y="604.7" width="21.95" height="22.85" fill="#fea571"/>
<rect x="423.55" y="604.7" width="21.95" height="22.85" fill="#fe9f6d"/>
<rect x="445.1" y="604.7" width="43.5" height="22.85" fill="#fd9b6b"/>
<rect x="488.2" y="604.7" width="21.95" height="22.85" fill="#fe9f6d"/>
<rect x="509.75" y="604.7" width="43.5" height="22.85" fill="#fd9b6b"/>
<rect x="552.85" y="604.7" width="43.5" height="22.85" fill="#fe9f6d"/>
<rect x="595.95" y="604.7" width="21.95" height="22.85" fill="#fd9b6b"/>
<rect x="617.5" y="604.7" width="21.95" height="22.85" fill="#fea571"/>
<rect x="639.05" y="604.7" width="21.95" height="22.85" fill="#fd9266"/>
<rect x="660.6" y="604.7" width="21.95" height="22.85" fill="#fff"/>
<rect x="682.15" y="604.7" width="43.5" height="22.85" fill="#fd9b6b"/>
<rect x="725.25" y="604.7" width="21.95" height="22.85" fill="#fe9f6d"/>
<rect x="746.8" y="604.7" width="21.95" height="22.85" fill="#fd9b6b"/>
<rect x="768.35" y="604.7" width="21.95" height="22.85" fill="#fd9668"/>
<rect x="789.9" y="604.7" width="65.05" height="22.85" fill="#fff"/>
<rect x="854.55" y="604.7" width="43.5" height="22.85" fill="#fd9b6b"/>
<rect x="897.65" y="604.7" width="21.95" height="22.85" fill="#fff"/>
<rect x="919.2" y="604.7" width="21.95" height="22.85" fill="#fc8961"/>
<rect x="940.75" y="604.7" width="43.5" height="22.85" fill="#fff"/>
<rect x="983.85" y="604.7" width="21.95" height="22.85" fill="#fc8961"/>
<rect x="1005.4" y="604.7" width="21.95" height="22.85" fill="#fff"/>
<rect x="1026.95" y="604.7" width="21.95" height="22.85" fill="#fb835f"/>
<rect x="1048.5" y="604.7" width="21.95" height="22.85" fill="#f7705c"/>
<rect x="1070.05" y="604.7" width="21.95" height="22.85" fill="#fff"/>
<rect x="1091.6" y="604.7" width="21.95" height="22.85" fill="#f56b5c"/>
<rect x="1113.15" y="604.7" width="21.95" height="22.85" fill="#f4675c"/>
<rect x="1134.7" y="604.7" width="21.95" height="22.85" fill="#f2625d"/>
<rect x="1156.25" y="604.7" width="21.95" height="22.85" fill="#fff"/>
<rect x="1177.8" y="604.7" width="21.95" height="22.85" fill="#ed5a5f"/>
<rect x="1199.35" y="604.7" width="21.95" height="22.85" fill="#c23b75"/>
<rect x="1220.9" y="604.7" width="21.95" height="22.85" fill="#ba3878"/>
<rect x="1242.45" y="604.7" width="21.55" height="22.85" fill="#fb835f"/>
<rect x="402" y="627.15" width="21.95" height="22.85" fill="#fdebac"/>
<rect x="423.55" y="627.15" width="65.05" height="22.85" fill="#fde7a9"/>
<rect x="488.2" y="627.15" width="21.95" height="22.85" fill="#fdebac"/>
<rect x="509.75" y="627.15" width="65.05" height="22.85" fill="#fde7a9"/>
<rect x="574.4" y="627.15" width="21.95" height="22.85" fill="#fdebac"/>
<rect x="595.95" y="627.15" width="21.95" height="22.85" fill="#fddea0"/>
<rect x="617.5" y="627.15" width="21.95" height="22.85" fill="#fde7a9"/>
<rect x="639.05" y="627.15" width="43.5" height="22.85" fill="#fde2a3"/>
<rect x="682.15" y="627.15" width="21.95" height="22.85" fill="#fddea0"/>
<rect x="703.7" y="627.15" width="86.6" height="22.85" fill="#fde7a9"/>
<rect x="789.9" y="627.15" width="43.5" height="22.85" fill="#fddea0"/>
<rect x="833" y="627.15" width="21.95" height="22.85" fill="#fde2a3"/>
<rect x="854.55" y="627.15" width="43.5" height="22.85" fill="#fddea0"/>
<rect x="897.65" y="627.15" width="65.05" height="22.85" fill="#fed89a"/>
<rect x="962.3" y="627.15" width="43.5" height="22.85" fill="#fecf92"/>
<rect x="1005.4" y="627.15" width="21.95" height="22.85" fill="#feca8d"/>
<rect x="1026.95" y="627.15" width="21.95" height="22.85" fill="#fec68a"/>
<rect x="1048.5" y="627.15" width="21.95" height="22.85" fill="#fea571"/>
<rect x="1070.05" y="627.15" width="21.95" height="22.85" fill="#feb77e"/>
<rect x="1091.6" y="627.15" width="21.95" height="22.85" fill="#feae77"/>
<rect x="1113.15" y="627.15" width="21.95" height="22.85" fill="#feb77e"/>
<rect x="1134.7" y="627.15" width="21.95" height="22.85" fill="#fea571"/>
<rect x="1156.25" y="627.15" width="21.95" height="22.85" fill="#fd9668"/>
<rect x="1177.8" y="627.15" width="21.95" height="22.85" fill="#fe9f6d"/>
<rect x="1199.35" y="627.15" width="21.95" height="22.85" fill="#f4675c"/>
<rect x="1220.9" y="627.15" width="21.95" height="22.85" fill="#fc8961"/>
<rect x="1242.45" y="627.15" width="21.55" height="22.85" fill="#feca8d"/>
<rect x="402" y="649.6" width="21.95" height="22.85" fill="#fdebac"/>
<rect x="423.55" y="649.6" width="65.05" height="22.85" fill="#fde7a9"/>
<rect x="488.2" y="649.6" width="21.95" height="22.85" fill="#fdebac"/>
<rect x="509.75" y="649.6" width="129.7" height="22.85" fill="#fde7a9"/>
<rect x="639.05" y="649.6" width="194.35" height="22.85" fill="#fde2a3"/>
<rect x="833" y="649.6" width="43.5" height="22.85" fill="#fddea0"/>
<rect x="876.1" y="649.6" width="21.95" height="22.85" fill="#fed89a"/>
<rect x="897.65" y="649.6" width="21.95" height="22.85" fill="#fde2a3"/>
<rect x="919.2" y="649.6" width="21.95" height="22.85" fill="#fed89a"/>
<rect x="940.75" y="649.6" width="21.95" height="22.85" fill="#fddea0"/>
<rect x="962.3" y="649.6" width="43.5" height="22.85" fill="#fed89a"/>
<rect x="1005.4" y="649.6" width="21.95" height="22.85" fill="#fecf92"/>
<rect x="1026.95" y="649.6" width="21.95" height="22.85" fill="#feca8d"/>
<rect x="1048.5" y="649.6" width="43.5" height="22.85" fill="#fec68a"/>
<rect x="1091.6" y="649.6" width="21.95" height="22.85" fill="#fec185"/>
<rect x="1113.15" y="649.6" width="21.95" height="22.85" fill="#feae77"/>
<rect x="1134.7" y="649.6" width="21.95" height="22.85" fill="#feb77e"/>
<rect x="1156.25" y="649.6" width="21.95" height="22.85" fill="#fd9266"/>
<rect x="1177.8" y="649.6" width="21.95" height="22.85" fill="#febd82"/>
<rect x="1199.35" y="649.6" width="21.95" height="22.85" fill="#f56b5c"/>
<rect x="1220.9" y="649.6" width="21.95" height="22.85" fill="#fe9f6d"/>
<rect x="1242.45" y="649.6" width="21.55" height="22.85" fill="#fed89a"/>
<rect x="402" y="672.05" width="86.6" height="22.85" fill="#fed395"/>
<rect x="488.2" y="672.05" width="21.95" height="22.85" fill="#fecf92"/>
<rect x="509.75" y="672.05" width="108.15" height="22.85" fill="#fed395"/>
<rect x="617.5" y="672.05" width="21.95" height="22.85" fill="#fed89a"/>
<rect x="639.05" y="672.05" width="21.95" height="22.85" fill="#fec68a"/>
<rect x="660.6" y="672.05" width="21.95" height="22.85" fill="#fed395"/>
<rect x="682.15" y="672.05" width="21.95" height="22.85" fill="#fecf92"/>
<rect x="703.7" y="672.05" width="86.6" height="22.85" fill="#fed395"/>
<rect x="789.9" y="672.05" width="21.95" height="22.85" fill="#fecf92"/>
<rect x="811.45" y="672.05" width="43.5" height="22.85" fill="#feca8d"/>
<rect x="854.55" y="672.05" width="43.5" height="22.85" fill="#fec68a"/>
<rect x="897.65" y="672.05" width="21.95" height="22.85" fill="#feca8d"/>
<rect x="919.2" y="672.05" width="21.95" height="22.85" fill="#feb77e"/>
<rect x="940.75" y="672.05" width="21.95" height="22.85" fill="#fec68a"/>
<rect x="962.3" y="672.05" width="21.95" height="22.85" fill="#feca8d"/>
<rect x="983.85" y="672.05" width="21.95" height="22.85" fill="#fe9f6d"/>
<rect x="1005.4" y="672.05" width="21.95" height="22.85" fill="#feb77e"/>
<rect x="1026.95" y="672.05" width="43.5" height="22.85" fill="#fd9b6b"/>
<rect x="1070.05" y="672.05" width="21.95" height="22.85" fill="#feae77"/>
<rect x="1091.6" y="672.05" width="21.95" height="22.85" fill="#f56b5c"/>
<rect x="1113.15" y="672.05" width="21.95" height="22.85" fill="#fd9668"/>
<rect x="1134.7" y="672.05" width="21.95" height="22.85" fill="#f7705c"/>
<rect x="1156.25" y="672.05" width="21.95" height="22.85" fill="#ea5661"/>
<rect x="1177.8" y="672.05" width="21.95" height="22.85" fill="#f7705c"/>
<rect x="1199.35" y="672.05" width="21.95" height="22.85" fill="#e24d66"/>
<rect x="1220.9" y="672.05" width="21.95" height="22.85" fill="#ed5a5f"/>
<rect x="1242.45" y="672.05" width="21.55" height="22.85" fill="#feae77"/>
<rect x="402" y="694.5" width="108.15" height="22.85" fill="#fed89a"/>
<rect x="509.75" y="694.5" width="21.95" height="22.85" fill="#fed395"/>
<rect x="531.3" y="694.5" width="21.95" height="22.85" fill="#fed89a"/>
<rect x="552.85" y="694.5" width="86.6" height="22.85" fill="#fed395"/>
<rect x="639.05" y="694.5" width="21.95" height="22.85" fill="#fecf92"/>
<rect x="660.6" y="694.5" width="21.95" height="22.85" fill="#fed395"/>
<rect x="682.15" y="694.5" width="21.95" height="22.85" fill="#fecf92"/>
<rect x="703.7" y="694.5" width="43.5" height="22.85" fill="#fed395"/>
<rect x="746.8" y="694.5" width="21.95" height="22.85" fill="#fecf92"/>
<rect x="768.35" y="694.5" width="43.5" height="22.85" fill="#fed395"/>
<rect x="811.45" y="694.5" width="21.95" height="22.85" fill="#fecf92"/>
<rect x="833" y="694.5" width="21.95" height="22.85" fill="#feca8d"/>
<rect x="854.55" y="694.5" width="43.5" height="22.85" fill="#fec68a"/>
<rect x="897.65" y="694.5" width="21.95" height="22.85" fill="#feca8d"/>
<rect x="919.2" y="694.5" width="21.95" height="22.85" fill="#fec68a"/>
<rect x="940.75" y="694.5" width="21.95" height="22.85" fill="#feca8d"/>
<rect x="962.3" y="694.5" width="65.05" height="22.85" fill="#fec68a"/>
<rect x="1026.95" y="694.5" width="65.05" height="22.85" fill="#feb47b"/>
<rect x="1091.6" y="694.5" width="21.95" height="22.85" fill="#fea571"/>
<rect x="1113.15" y="694.5" width="21.95" height="22.85" fill="#fd9668"/>
<rect x="1134.7" y="694.5" width="21.95" height="22.85" fill="#fe9f6d"/>
<rect x="1156.25" y="694.5" width="21.95" height="22.85" fill="#fa7d5e"/>
<rect x="1177.8" y="694.5" width="21.95" height="22.85" fill="#f8745c"/>
<rect x="1199.35" y="694.5" width="43.5" height="22.85" fill="#e44f64"/>
<rect x="1242.45" y="694.5" width="21.55" height="22.85" fill="#fec68a"/>
<rect x="402" y="716.95" width="43.5" height="22.85" fill="#fc8c63"/>
<rect x="445.1" y="716.95" width="43.5" height="22.85" fill="#fd9266"/>
<rect x="488.2" y="716.95" width="21.95" height="22.85" fill="#ca3e72"/>
<rect x="509.75" y="716.95" width="21.95" height="22.85" fill="#fb835f"/>
<rect x="531.3" y="716.95" width="21.95" height="22.85" fill="#fa7d5e"/>
<rect x="552.85" y="716.95" width="21.95" height="22.85" fill="#fb835f"/>
<rect x="574.4" y="716.95" width="43.5" height="22.85" fill="#fc8961"/>
<rect x="617.5" y="716.95" width="21.95" height="22.85" fill="#fc8c63"/>
<rect x="639.05" y="716.95" width="21.95" height="22.85" fill="#f9795d"/>
<rect x="660.6" y="716.95" width="21.95" height="22.85" fill="#fc8c63"/>
<rect x="682.15" y="716.95" width="21.95" height="22.85" fill="#fa7d5e"/>
<rect x="703.7" y="716.95" width="21.95" height="22.85" fill="#fc8961"/>
<rect x="725.25" y="716.95" width="21.95" height="22.85" fill="#de4968"/>
<rect x="746.8" y="716.95" width="21.95" height="22.85" fill="#fd9266"/>
<rect x="768.35" y="716.95" width="21.95" height="22.85" fill="#fc8961"/>
<rect x="789.9" y="716.95" width="21.95" height="22.85" fill="#fa7d5e"/>
<rect x="811.45" y="716.95" width="21.95" height="22.85" fill="#f8745c"/>
<rect x="833" y="716.95" width="21.95" height="22.85" fill="#fb835f"/>
<rect x="854.55" y="716.95" width="21.95" height="22.85" fill="#fa7d5e"/>
<rect x="876.1" y="716.95" width="21.95" height="22.85" fill="#f9795d"/>
<rect x="897.65" y="716.95" width="21.95" height="22.85" fill="#fb835f"/>
<rect x="919.2" y="716.95" width="21.95" height="22.85" fill="#f8745c"/>
<rect x="940.75" y="716.95" width="21.95" height="22.85" fill="#fb835f"/>
<rect x="962.3" y="716.95" width="21.95" height="22.85" fill="#902a81"/>
<rect x="983.85" y="716.95" width="21.95" height="22.85" fill="#b2357b"/>
<rect x="1005.4" y="716.95" width="21.95" height="22.85" fill="#ed5a5f"/>
<rect x="1026.95" y="716.95" width="21.95" height="22.85" fill="#f2625d"/>
<rect x="1048.5" y="716.95" width="43.5" height="22.85" fill="#e44f64"/>
<rect x="1091.6" y="716.95" width="21.95" height="22.85" fill="#e85362"/>
<rect x="1113.15" y="716.95" width="21.95" height="22.85" fill="#cf4070"/>
<rect x="1134.7" y="716.95" width="21.95" height="22.85" fill="#d2426f"/>
<rect x="1156.25" y="716.95" width="21.95" height="22.85" fill="#fff"/>
<rect x="1177.8" y="716.95" width="21.95" height="22.85" fill="#a1307e"/>
<rect x="1199.35" y="716.95" width="21.95" height="22.85" fill="#902a81"/>
<rect x="1220.9" y="716.95" width="21.95" height="22.85" fill="#701f81"/>
<rect x="1242.45" y="716.95" width="21.55" height="22.85" fill="#f56b5c"/>
<rect x="402" y="739.4" width="21.95" height="22.85" fill="#feca8d"/>
<rect x="423.55" y="739.4" width="43.5" height="22.85" fill="#fec185"/>
<rect x="466.65" y="739.4" width="21.95" height="22.85" fill="#febd82"/>
<rect x="488.2" y="739.4" width="21.95" height="22.85" fill="#fec68a"/>
<rect x="509.75" y="739.4" width="21.95" height="22.85" fill="#feb77e"/>
<rect x="531.3" y="739.4" width="21.95" height="22.85" fill="#fec185"/>
<rect x="552.85" y="739.4" width="21.95" height="22.85" fill="#feb77e"/>
<rect x="574.4" y="739.4" width="21.95" height="22.85" fill="#fea973"/>
<rect x="595.95" y="739.4" width="21.95" height="22.85" fill="#fec185"/>
<rect x="617.5" y="739.4" width="21.95" height="22.85" fill="#f4675c"/>
<rect x="639.05" y="739.4" width="21.95" height="22.85" fill="#feca8d"/>
<rect x="660.6" y="739.4" width="21.95" height="22.85" fill="#feb47b"/>
<rect x="682.15" y="739.4" width="21.95" height="22.85" fill="#febd82"/>
<rect x="703.7" y="739.4" width="65.05" height="22.85" fill="#f4675c"/>
<rect x="768.35" y="739.4" width="21.95" height="22.85" fill="#febd82"/>
<rect x="789.9" y="739.4" width="21.95" height="22.85" fill="#fd9668"/>
<rect x="811.45" y="739.4" width="21.95" height="22.85" fill="#fea571"/>
<rect x="833" y="739.4" width="21.95" height="22.85" fill="#f8745c"/>
<rect x="854.55" y="739.4" width="21.95" height="22.85" fill="#fc8961"/>
<rect x="876.1" y="739.4" width="21.95" height="22.85" fill="#fd9b6b"/>
<rect x="897.65" y="739.4" width="21.95" height="22.85" fill="#f9795d"/>
<rect x="919.2" y="739.4" width="21.95" height="22.85" fill="#fd9266"/>
<rect x="940.75" y="739.4" width="21.95" height="22.85" fill="#e85362"/>
<rect x="962.3" y="739.4" width="21.95" height="22.85" fill="#fd9266"/>
<rect x="983.85" y="739.4" width="21.95" height="22.85" fill="#f9795d"/>
<rect x="1005.4" y="739.4" width="21.95" height="22.85" fill="#b73779"/>
<rect x="1026.95" y="739.4" width="21.95" height="22.85" fill="#bf3a77"/>
<rect x="1048.5" y="739.4" width="21.95" height="22.85" fill="#f7705c"/>
<rect x="1070.05" y="739.4" width="21.95" height="22.85" fill="#e44f64"/>
<rect x="1091.6" y="739.4" width="21.95" height="22.85" fill="#ea5661"/>
<rect x="1113.15" y="739.4" width="21.95" height="22.85" fill="#a1307e"/>
<rect x="1134.7" y="739.4" width="21.95" height="22.85" fill="#b2357b"/>
<rect x="1156.25" y="739.4" width="21.95" height="22.85" fill="#e44f64"/>
<rect x="1177.8" y="739.4" width="21.95" height="22.85" fill="#b73779"/>
<rect x="1199.35" y="739.4" width="21.95" height="22.85" fill="#802582"/>
<rect x="1220.9" y="739.4" width="21.95" height="22.85" fill="#9c2e7f"/>
<rect x="1242.45" y="739.4" width="21.55" height="22.85" fill="#000004"/>
<rect x="402" y="761.85" width="43.5" height="22.85" fill="#e24d66"/>
<rect x="445.1" y="761.85" width="21.95" height="22.85" fill="#de4968"/>
<rect x="466.65" y="761.85" width="21.95" height="22.85" fill="#db476a"/>
<rect x="488.2" y="761.85" width="21.95" height="22.85" fill="#e24d66"/>
<rect x="509.75" y="761.85" width="43.5" height="22.85" fill="#de4968"/>
<rect x="552.85" y="761.85" width="21.95" height="22.85" fill="#db476a"/>
<rect x="574.4" y="761.85" width="21.95" height="22.85" fill="#d6456c"/>
<rect x="595.95" y="761.85" width="21.95" height="22.85" fill="#db476a"/>
<rect x="617.5" y="761.85" width="21.95" height="22.85" fill="#ca3e72"/>
<rect x="639.05" y="761.85" width="21.95" height="22.85" fill="#de4968"/>
<rect x="660.6" y="761.85" width="21.95" height="22.85" fill="#cf4070"/>
<rect x="682.15" y="761.85" width="21.95" height="22.85" fill="#d6456c"/>
<rect x="703.7" y="761.85" width="65.05" height="22.85" fill="#ca3e72"/>
<rect x="768.35" y="761.85" width="21.95" height="22.85" fill="#d6456c"/>
<rect x="789.9" y="761.85" width="21.95" height="22.85" fill="#db476a"/>
<rect x="811.45" y="761.85" width="21.95" height="22.85" fill="#ca3e72"/>
<rect x="833" y="761.85" width="21.95" height="22.85" fill="#bf3a77"/>
<rect x="854.55" y="761.85" width="21.95" height="22.85" fill="#d2426f"/>
<rect x="876.1" y="761.85" width="21.95" height="22.85" fill="#d6456c"/>
<rect x="897.65" y="761.85" width="21.95" height="22.85" fill="#db476a"/>
<rect x="919.2" y="761.85" width="21.95" height="22.85" fill="#de4968"/>
<rect x="940.75" y="761.85" width="21.95" height="22.85" fill="#ca3e72"/>
<rect x="962.3" y="761.85" width="21.95" height="22.85" fill="#bf3a77"/>
<rect x="983.85" y="761.85" width="21.95" height="22.85" fill="#d2426f"/>
<rect x="1005.4" y="761.85" width="21.95" height="22.85" fill="#aa337d"/>
<rect x="1026.95" y="761.85" width="21.95" height="22.85" fill="#a5317e"/>
<rect x="1048.5" y="761.85" width="21.95" height="22.85" fill="#ba3878"/>
<rect x="1070.05" y="761.85" width="21.95" height="22.85" fill="#a5317e"/>
<rect x="1091.6" y="761.85" width="21.95" height="22.85" fill="#c73d73"/>
<rect x="1113.15" y="761.85" width="21.95" height="22.85" fill="#842681"/>
<rect x="1134.7" y="761.85" width="43.5" height="22.85" fill="#9c2e7f"/>
<rect x="1177.8" y="761.85" width="21.95" height="22.85" fill="#6b1d81"/>
<rect x="1199.35" y="761.85" width="21.95" height="22.85" fill="#3b0f70"/>
<rect x="1220.9" y="761.85" width="21.95" height="22.85" fill="#1e1149"/>
<rect x="1242.45" y="761.85" width="21.55" height="22.85" fill="#000004"/>
<rect x="402" y="784.3" width="21.95" height="22.85" fill="#fb835f"/>
<rect x="423.55" y="784.3" width="21.95" height="22.85" fill="#fc8961"/>
<rect x="445.1" y="784.3" width="43.5" height="22.85" fill="#fa7d5e"/>
<rect x="488.2" y="784.3" width="65.05" height="22.85" fill="#f8745c"/>
<rect x="552.85" y="784.3" width="65.05" height="22.85" fill="#f9795d"/>
<rect x="617.5" y="784.3" width="21.95" height="22.85" fill="#fa7d5e"/>
<rect x="639.05" y="784.3" width="21.95" height="22.85" fill="#f56b5c"/>
<rect x="660.6" y="784.3" width="21.95" height="22.85" fill="#fa7d5e"/>
<rect x="682.15" y="784.3" width="21.95" height="22.85" fill="#f56b5c"/>
<rect x="703.7" y="784.3" width="21.95" height="22.85" fill="#fa7d5e"/>
<rect x="725.25" y="784.3" width="21.95" height="22.85" fill="#f9795d"/>
<rect x="746.8" y="784.3" width="21.95" height="22.85" fill="#f8745c"/>
<rect x="768.35" y="784.3" width="21.95" height="22.85" fill="#fb835f"/>
<rect x="789.9" y="784.3" width="21.95" height="22.85" fill="#fa7d5e"/>
<rect x="811.45" y="784.3" width="21.95" height="22.85" fill="#f4675c"/>
<rect x="833" y="784.3" width="65.05" height="22.85" fill="#f56b5c"/>
<rect x="897.65" y="784.3" width="21.95" height="22.85" fill="#f8745c"/>
<rect x="919.2" y="784.3" width="21.95" height="22.85" fill="#ed5a5f"/>
<rect x="940.75" y="784.3" width="21.95" height="22.85" fill="#f4675c"/>
<rect x="962.3" y="784.3" width="21.95" height="22.85" fill="#f56b5c"/>
<rect x="983.85" y="784.3" width="21.95" height="22.85" fill="#ed5a5f"/>
<rect x="1005.4" y="784.3" width="43.5" height="22.85" fill="#e85362"/>
<rect x="1048.5" y="784.3" width="21.95" height="22.85" fill="#e44f64"/>
<rect x="1070.05" y="784.3" width="21.95" height="22.85" fill="#ed5a5f"/>
<rect x="1091.6" y="784.3" width="21.95" height="22.85" fill="#de4968"/>
<rect x="1113.15" y="784.3" width="21.95" height="22.85" fill="#bf3a77"/>
<rect x="1134.7" y="784.3" width="21.95" height="22.85" fill="#cf4070"/>
<rect x="1156.25" y="784.3" width="21.95" height="22.85" fill="#b73779"/>
<rect x="1177.8" y="784.3" width="21.95" height="22.85" fill="#bf3a77"/>
<rect x="1199.35" y="784.3" width="21.95" height="22.85" fill="#a1307e"/>
<rect x="1220.9" y="784.3" width="21.95" height="22.85" fill="#a5317e"/>
<rect x="1242.45" y="784.3" width="21.55" height="22.85" fill="#e85362"/>
<rect x="402" y="806.75" width="86.6" height="22.85" fill="#feb47b"/>
<rect x="488.2" y="806.75" width="21.95" height="22.85" fill="#feb77e"/>
<rect x="509.75" y="806.75" width="21.95" height="22.85" fill="#feae77"/>
<rect x="531.3" y="806.75" width="21.95" height="22.85" fill="#feb77e"/>
<rect x="552.85" y="806.75" width="21.95" height="22.85" fill="#feae77"/>
<rect x="574.4" y="806.75" width="21.95" height="22.85" fill="#feb47b"/>
<rect x="595.95" y="806.75" width="21.95" height="22.85" fill="#feae77"/>
<rect x="617.5" y="806.75" width="21.95" height="22.85" fill="#feb77e"/>
<rect x="639.05" y="806.75" width="21.95" height="22.85" fill="#feae77"/>
<rect x="660.6" y="806.75" width="21.95" height="22.85" fill="#feb47b"/>
<rect x="682.15" y="806.75" width="21.95" height="22.85" fill="#fea571"/>
<rect x="703.7" y="806.75" width="21.95" height="22.85" fill="#feb47b"/>
<rect x="725.25" y="806.75" width="21.95" height="22.85" fill="#feb77e"/>
<rect x="746.8" y="806.75" width="21.95" height="22.85" fill="#feae77"/>
<rect x="768.35" y="806.75" width="21.95" height="22.85" fill="#feb77e"/>
<rect x="789.9" y="806.75" width="21.95" height="22.85" fill="#feb47b"/>
<rect x="811.45" y="806.75" width="43.5" height="22.85" fill="#fea571"/>
<rect x="854.55" y="806.75" width="21.95" height="22.85" fill="#feae77"/>
<rect x="876.1" y="806.75" width="21.95" height="22.85" fill="#fe9f6d"/>
<rect x="897.65" y="806.75" width="21.95" height="22.85" fill="#fea571"/>
<rect x="919.2" y="806.75" width="86.6" height="22.85" fill="#fe9f6d"/>
<rect x="1005.4" y="806.75" width="21.95" height="22.85" fill="#fea973"/>
<rect x="1026.95" y="806.75" width="65.05" height="22.85" fill="#fc8c63"/>
<rect x="1091.6" y="806.75" width="21.95" height="22.85" fill="#fb835f"/>
<rect x="1113.15" y="806.75" width="21.95" height="22.85" fill="#ea5661"/>
<rect x="1134.7" y="806.75" width="21.95" height="22.85" fill="#f8745c"/>
<rect x="1156.25" y="806.75" width="21.95" height="22.85" fill="#bf3a77"/>
<rect x="1177.8" y="806.75" width="21.95" height="22.85" fill="#ba3878"/>
<rect x="1199.35" y="806.75" width="21.95" height="22.85" fill="#cf4070"/>
<rect x="1220.9" y="806.75" width="21.95" height="22.85" fill="#c73d73"/>
<rect x="1242.45" y="806.75" width="21.55" height="22.85" fill="#f56b5c"/>
<rect x="402" y="829.2" width="43.5" height="22.85" fill="#f56b5c"/>
<rect x="445.1" y="829.2" width="108.15" height="22.85" fill="#f7705c"/>
<rect x="552.85" y="829.2" width="21.95" height="22.85" fill="#f8745c"/>
<rect x="574.4" y="829.2" width="259" height="22.85" fill="#f7705c"/>
<rect x="833" y="829.2" width="21.95" height="22.85" fill="#f56b5c"/>
<rect x="854.55" y="829.2" width="21.95" height="22.85" fill="#f8745c"/>
<rect x="876.1" y="829.2" width="21.95" height="22.85" fill="#f7705c"/>
<rect x="897.65" y="829.2" width="21.95" height="22.85" fill="#f56b5c"/>
<rect x="919.2" y="829.2" width="21.95" height="22.85" fill="#f4675c"/>
<rect x="940.75" y="829.2" width="21.95" height="22.85" fill="#f56b5c"/>
<rect x="962.3" y="829.2" width="43.5" height="22.85" fill="#f7705c"/>
<rect x="1005.4" y="829.2" width="43.5" height="22.85" fill="#ef5d5e"/>
<rect x="1048.5" y="829.2" width="21.95" height="22.85" fill="#ea5661"/>
<rect x="1070.05" y="829.2" width="21.95" height="22.85" fill="#e24d66"/>
<rect x="1091.6" y="829.2" width="43.5" height="22.85" fill="#ed5a5f"/>
<rect x="1134.7" y="829.2" width="21.95" height="22.85" fill="#d6456c"/>
<rect x="1156.25" y="829.2" width="43.5" height="22.85" fill="#c23b75"/>
<rect x="1199.35" y="829.2" width="21.95" height="22.85" fill="#a1307e"/>
<rect x="1220.9" y="829.2" width="21.95" height="22.85" fill="#bf3a77"/>
<rect x="1242.45" y="829.2" width="21.55" height="22.85" fill="#f4675c"/>
<rect x="402" y="851.65" width="21.95" height="22.85" fill="#fc8c63"/>
<rect x="423.55" y="851.65" width="21.95" height="22.85" fill="#fa7d5e"/>
<rect x="445.1" y="851.65" width="21.95" height="22.85" fill="#fb835f"/>
<rect x="466.65" y="851.65" width="21.95" height="22.85" fill="#fc8961"/>
<rect x="488.2" y="851.65" width="21.95" height="22.85" fill="#f56b5c"/>
<rect x="509.75" y="851.65" width="21.95" height="22.85" fill="#f7705c"/>
<rect x="531.3" y="851.65" width="21.95" height="22.85" fill="#f56b5c"/>
<rect x="552.85" y="851.65" width="21.95" height="22.85" fill="#fc8961"/>
<rect x="574.4" y="851.65" width="21.95" height="22.85" fill="#ef5d5e"/>
<rect x="595.95" y="851.65" width="21.95" height="22.85" fill="#f56b5c"/>
<rect x="617.5" y="851.65" width="21.95" height="22.85" fill="#f7705c"/>
<rect x="639.05" y="851.65" width="21.95" height="22.85" fill="#f9795d"/>
<rect x="660.6" y="851.65" width="21.95" height="22.85" fill="#de4968"/>
<rect x="682.15" y="851.65" width="21.95" height="22.85" fill="#fa7d5e"/>
<rect x="703.7" y="851.65" width="21.95" height="22.85" fill="#ed5a5f"/>
<rect x="725.25" y="851.65" width="43.5" height="22.85" fill="#f56b5c"/>
<rect x="768.35" y="851.65" width="21.95" height="22.85" fill="#fc8961"/>
<rect x="789.9" y="851.65" width="21.95" height="22.85" fill="#ca3e72"/>
<rect x="811.45" y="851.65" width="21.95" height="22.85" fill="#f4675c"/>
<rect x="833" y="851.65" width="21.95" height="22.85" fill="#ea5661"/>
<rect x="854.55" y="851.65" width="21.95" height="22.85" fill="#e24d66"/>
<rect x="876.1" y="851.65" width="21.95" height="22.85" fill="#de4968"/>
<rect x="897.65" y="851.65" width="21.95" height="22.85" fill="#aa337d"/>
<rect x="919.2" y="851.65" width="21.95" height="22.85" fill="#d6456c"/>
<rect x="940.75" y="851.65" width="21.95" height="22.85" fill="#ba3878"/>
<rect x="962.3" y="851.65" width="21.95" height="22.85" fill="#de4968"/>
<rect x="983.85" y="851.65" width="21.95" height="22.85" fill="#e44f64"/>
<rect x="1005.4" y="851.65" width="21.95" height="22.85" fill="#ba3878"/>
<rect x="1026.95" y="851.65" width="21.95" height="22.85" fill="#c73d73"/>
<rect x="1048.5" y="851.65" width="21.95" height="22.85" fill="#b2357b"/>
<rect x="1070.05" y="851.65" width="21.95" height="22.85" fill="#9c2e7f"/>
<rect x="1091.6" y="851.65" width="21.95" height="22.85" fill="#842681"/>
<rect x="1113.15" y="851.65" width="21.95" height="22.85" fill="#b73779"/>
<rect x="1134.7" y="851.65" width="21.95" height="22.85" fill="#36106b"/>
<rect x="1156.25" y="851.65" width="21.95" height="22.85" fill="#51127c"/>
<rect x="1177.8" y="851.65" width="21.95" height="22.85" fill="#902a81"/>
<rect x="1199.35" y="851.65" width="21.95" height="22.85" fill="#180f3d"/>
<rect x="1220.9" y="851.65" width="43.1" height="22.85" fill="#000004"/>
<rect x="402" y="874.1" width="21.95" height="22.85" fill="#fdebac"/>
<rect x="423.55" y="874.1" width="43.5" height="22.85" fill="#fde7a9"/>
<rect x="466.65" y="874.1" width="21.95" height="22.85" fill="#fde2a3"/>
<rect x="488.2" y="874.1" width="65.05" height="22.85" fill="#fddea0"/>
<rect x="552.85" y="874.1" width="21.95" height="22.85" fill="#fed89a"/>
<rect x="574.4" y="874.1" width="43.5" height="22.85" fill="#fddea0"/>
<rect x="617.5" y="874.1" width="21.95" height="22.85" fill="#fde2a3"/>
<rect x="639.05" y="874.1" width="86.6" height="22.85" fill="#fddea0"/>
<rect x="725.25" y="874.1" width="65.05" height="22.85" fill="#fde2a3"/>
<rect x="789.9" y="874.1" width="43.5" height="22.85" fill="#fddea0"/>
<rect x="833" y="874.1" width="21.95" height="22.85" fill="#fed89a"/>
<rect x="854.55" y="874.1" width="21.95" height="22.85" fill="#fed395"/>
<rect x="876.1" y="874.1" width="21.95" height="22.85" fill="#fecf92"/>
<rect x="897.65" y="874.1" width="21.95" height="22.85" fill="#febd82"/>
<rect x="919.2" y="874.1" width="43.5" height="22.85" fill="#fed395"/>
<rect x="962.3" y="874.1" width="21.95" height="22.85" fill="#fecf92"/>
<rect x="983.85" y="874.1" width="21.95" height="22.85" fill="#fec68a"/>
<rect x="1005.4" y="874.1" width="21.95" height="22.85" fill="#feae77"/>
<rect x="1026.95" y="874.1" width="21.95" height="22.85" fill="#fea973"/>
<rect x="1048.5" y="874.1" width="21.95" height="22.85" fill="#febd82"/>
<rect x="1070.05" y="874.1" width="21.95" height="22.85" fill="#fecf92"/>
<rect x="1091.6" y="874.1" width="21.95" height="22.85" fill="#feae77"/>
<rect x="1113.15" y="874.1" width="21.95" height="22.85" fill="#f7705c"/>
<rect x="1134.7" y="874.1" width="21.95" height="22.85" fill="#fe9f6d"/>
<rect x="1156.25" y="874.1" width="21.95" height="22.85" fill="#fd9266"/>
<rect x="1177.8" y="874.1" width="21.95" height="22.85" fill="#fc8961"/>
<rect x="1199.35" y="874.1" width="21.95" height="22.85" fill="#ca3e72"/>
<rect x="1220.9" y="874.1" width="21.95" height="22.85" fill="#f56b5c"/>
<rect x="1242.45" y="874.1" width="21.55" height="22.85" fill="#fed395"/>
<rect x="402" y="896.55" width="86.6" height="22.85" fill="#feae77"/>
<rect x="488.2" y="896.55" width="21.95" height="22.85" fill="#fea973"/>
<rect x="509.75" y="896.55" width="21.95" height="22.85" fill="#fea571"/>
<rect x="531.3" y="896.55" width="21.95" height="22.85" fill="#fea973"/>
<rect x="552.85" y="896.55" width="43.5" height="22.85" fill="#fea571"/>
<rect x="595.95" y="896.55" width="21.95" height="22.85" fill="#fea973"/>
<rect x="617.5" y="896.55" width="43.5" height="22.85" fill="#fea571"/>
<rect x="660.6" y="896.55" width="21.95" height="22.85" fill="#fea973"/>
<rect x="682.15" y="896.55" width="86.6" height="22.85" fill="#fea571"/>
<rect x="768.35" y="896.55" width="21.95" height="22.85" fill="#fea973"/>
<rect x="789.9" y="896.55" width="21.95" height="22.85" fill="#fe9f6d"/>
<rect x="811.45" y="896.55" width="43.5" height="22.85" fill="#fea571"/>
<rect x="854.55" y="896.55" width="43.5" height="22.85" fill="#fe9f6d"/>
<rect x="897.65" y="896.55" width="43.5" height="22.85" fill="#fea571"/>
<rect x="940.75" y="896.55" width="65.05" height="22.85" fill="#fe9f6d"/>
<rect x="1005.4" y="896.55" width="21.95" height="22.85" fill="#fea973"/>
<rect x="1026.95" y="896.55" width="21.95" height="22.85" fill="#fd9b6b"/>
<rect x="1048.5" y="896.55" width="21.95" height="22.85" fill="#fe9f6d"/>
<rect x="1070.05" y="896.55" width="21.95" height="22.85" fill="#fd9266"/>
<rect x="1091.6" y="896.55" width="21.95" height="22.85" fill="#9c2e7f"/>
<rect x="1113.15" y="896.55" width="21.95" height="22.85" fill="#fd9668"/>
<rect x="1134.7" y="896.55" width="21.95" height="22.85" fill="#fd9b6b"/>
<rect x="1156.25" y="896.55" width="21.95" height="22.85" fill="#f8745c"/>
<rect x="1177.8" y="896.55" width="21.95" height="22.85" fill="#fd9b6b"/>
<rect x="1199.35" y="896.55" width="21.95" height="22.85" fill="#db476a"/>
<rect x="1220.9" y="896.55" width="21.95" height="22.85" fill="#c73d73"/>
<rect x="1242.45" y="896.55" width="21.55" height="22.85" fill="#f7705c"/>
<rect x="402" y="919" width="65.05" height="22.85" fill="#e44f64"/>
<rect x="466.65" y="919" width="21.95" height="22.85" fill="#e24d66"/>
<rect x="488.2" y="919" width="172.8" height="22.85" fill="#e44f64"/>
<rect x="660.6" y="919" width="21.95" height="22.85" fill="#e24d66"/>
<rect x="682.15" y="919" width="65.05" height="22.85" fill="#e44f64"/>
<rect x="746.8" y="919" width="21.95" height="22.85" fill="#e24d66"/>
<rect x="768.35" y="919" width="43.5" height="22.85" fill="#e44f64"/>
<rect x="811.45" y="919" width="21.95" height="22.85" fill="#de4968"/>
<rect x="833" y="919" width="21.95" height="22.85" fill="#e24d66"/>
<rect x="854.55" y="919" width="21.95" height="22.85" fill="#db476a"/>
<rect x="876.1" y="919" width="21.95" height="22.85" fill="#d6456c"/>
<rect x="897.65" y="919" width="21.95" height="22.85" fill="#e24d66"/>
<rect x="919.2" y="919" width="21.95" height="22.85" fill="#de4968"/>
<rect x="940.75" y="919" width="21.95" height="22.85" fill="#db476a"/>
<rect x="962.3" y="919" width="21.95" height="22.85" fill="#de4968"/>
<rect x="983.85" y="919" width="21.95" height="22.85" fill="#d6456c"/>
<rect x="1005.4" y="919" width="21.95" height="22.85" fill="#c73d73"/>
<rect x="1026.95" y="919" width="43.5" height="22.85" fill="#cf4070"/>
<rect x="1070.05" y="919" width="21.95" height="22.85" fill="#d2426f"/>
<rect x="1091.6" y="919" width="21.95" height="22.85" fill="#d6456c"/>
<rect x="1113.15" y="919" width="21.95" height="22.85" fill="#54137d"/>
<rect x="1134.7" y="919" width="21.95" height="22.85" fill="#c23b75"/>
<rect x="1156.25" y="919" width="21.95" height="22.85" fill="#a1307e"/>
<rect x="1177.8" y="919" width="21.95" height="22.85" fill="#ba3878"/>
<rect x="1199.35" y="919" width="21.95" height="22.85" fill="#51127c"/>
<rect x="1220.9" y="919" width="21.95" height="22.85" fill="#8c2981"/>
<rect x="1242.45" y="919" width="21.55" height="22.85" fill="#d2426f"/>
<rect x="402" y="941.45" width="21.95" height="22.45" fill="#fd9668"/>
<rect x="423.55" y="941.45" width="215.9" height="22.45" fill="#fd9b6b"/>
<rect x="639.05" y="941.45" width="21.95" height="22.45" fill="#fd9668"/>
<rect x="660.6" y="941.45" width="43.5" height="22.45" fill="#fd9b6b"/>
<rect x="703.7" y="941.45" width="43.5" height="22.45" fill="#fd9668"/>
<rect x="746.8" y="941.45" width="129.7" height="22.45" fill="#fd9b6b"/>
<rect x="876.1" y="941.45" width="21.95" height="22.45" fill="#fd9668"/>
<rect x="897.65" y="941.45" width="86.6" height="22.45" fill="#fd9b6b"/>
<rect x="983.85" y="941.45" width="21.95" height="22.45" fill="#fb835f"/>
<rect x="1005.4" y="941.45" width="65.05" height="22.45" fill="#fd9668"/>
<rect x="1070.05" y="941.45" width="21.95" height="22.45" fill="#fb835f"/>
<rect x="1091.6" y="941.45" width="21.95" height="22.45" fill="#fc8c63"/>
<rect x="1113.15" y="941.45" width="21.95" height="22.45" fill="#fc8961"/>
<rect x="1134.7" y="941.45" width="21.95" height="22.45" fill="#fd9266"/>
<rect x="1156.25" y="941.45" width="21.95" height="22.45" fill="#f56b5c"/>
<rect x="1177.8" y="941.45" width="43.5" height="22.45" fill="#ed5a5f"/>
<rect x="1220.9" y="941.45" width="21.95" height="22.45" fill="#f9795d"/>
<rect x="1242.45" y="941.45" width="21.55" height="22.45" fill="#fd9266"/>
</g>
<clipPath id="nc">
<rect x="445.1" y="267.95" width="21.55" height="22.45"/>
<rect x="552.85" y="267.95" width="21.55" height="22.45"/>
<rect x="574.4" y="267.95" width="21.55" height="22.45"/>
<rect x="595.95" y="267.95" width="21.55" height="22.45"/>
<rect x="617.5" y="267.95" width="21.55" height="22.45"/>
<rect x="682.15" y="267.95" width="21.55" height="22.45"/>
<rect x="746.8" y="267.95" width="21.55" height="22.45"/>
<rect x="789.9" y="267.95" width="21.55" height="22.45"/>
<rect x="854.55" y="267.95" width="21.55" height="22.45"/>
<rect x="897.65" y="267.95" width="21.55" height="22.45"/>
<rect x="919.2" y="267.95" width="21.55" height="22.45"/>
<rect x="940.75" y="267.95" width="21.55" height="22.45"/>
<rect x="1005.4" y="267.95" width="21.55" height="22.45"/>
<rect x="1048.5" y="267.95" width="21.55" height="22.45"/>
<rect x="1070.05" y="267.95" width="21.55" height="22.45"/>
<rect x="1091.6" y="267.95" width="21.55" height="22.45"/>
<rect x="1134.7" y="267.95" width="21.55" height="22.45"/>
<rect x="1156.25" y="267.95" width="21.55" height="22.45"/>
<rect x="595.95" y="380.2" width="21.55" height="22.45"/>
<rect x="789.9" y="380.2" width="21.55" height="22.45"/>
<rect x="854.55" y="380.2" width="21.55" height="22.45"/>
<rect x="897.65" y="380.2" width="21.55" height="22.45"/>
<rect x="940.75" y="380.2" width="21.55" height="22.45"/>
<rect x="1156.25" y="402.65" width="21.55" height="22.45"/>
<rect x="445.1" y="425.1" width="21.55" height="22.45"/>
<rect x="552.85" y="425.1" width="21.55" height="22.45"/>
<rect x="595.95" y="425.1" width="21.55" height="22.45"/>
<rect x="617.5" y="425.1" width="21.55" height="22.45"/>
<rect x="682.15" y="425.1" width="21.55" height="22.45"/>
<rect x="746.8" y="425.1" width="21.55" height="22.45"/>
<rect x="789.9" y="425.1" width="21.55" height="22.45"/>
<rect x="811.45" y="425.1" width="21.55" height="22.45"/>
<rect x="854.55" y="425.1" width="21.55" height="22.45"/>
<rect x="897.65" y="425.1" width="21.55" height="22.45"/>
<rect x="919.2" y="425.1" width="21.55" height="22.45"/>
<rect x="940.75" y="425.1" width="21.55" height="22.45"/>
<rect x="1005.4" y="425.1" width="21.55" height="22.45"/>
<rect x="1026.95" y="425.1" width="21.55" height="22.45"/>
<rect x="1048.5" y="425.1" width="21.55" height="22.45"/>
<rect x="1091.6" y="425.1" width="21.55" height="22.45"/>
<rect x="1113.15" y="425.1" width="21.55" height="22.45"/>
<rect x="1134.7" y="425.1" width="21.55" height="22.45"/>
<rect x="1156.25" y="425.1" width="21.55" height="22.45"/>
<rect x="445.1" y="514.9" width="21.55" height="22.45"/>
<rect x="552.85" y="514.9" width="21.55" height="22.45"/>
<rect x="595.95" y="514.9" width="21.55" height="22.45"/>
<rect x="617.5" y="514.9" width="21.55" height="22.45"/>
<rect x="682.15" y="514.9" width="21.55" height="22.45"/>
<rect x="746.8" y="514.9" width="21.55" height="22.45"/>
<rect x="789.9" y="514.9" width="21.55" height="22.45"/>
<rect x="854.55" y="514.9" width="21.55" height="22.45"/>
<rect x="897.65" y="514.9" width="21.55" height="22.45"/>
<rect x="919.2" y="514.9" width="21.55" height="22.45"/>
<rect x="940.75" y="514.9" width="21.55" height="22.45"/>
<rect x="1005.4" y="514.9" width="21.55" height="22.45"/>
<rect x="1048.5" y="514.9" width="21.55" height="22.45"/>
<rect x="1070.05" y="514.9" width="21.55" height="22.45"/>
<rect x="1091.6" y="514.9" width="21.55" height="22.45"/>
<rect x="1134.7" y="514.9" width="21.55" height="22.45"/>
<rect x="660.6" y="604.7" width="21.55" height="22.45"/>
<rect x="789.9" y="604.7" width="21.55" height="22.45"/>
<rect x="811.45" y="604.7" width="21.55" height="22.45"/>
<rect x="833" y="604.7" width="21.55" height="22.45"/>
<rect x="897.65" y="604.7" width="21.55" height="22.45"/>
<rect x="940.75" y="604.7" width="21.55" height="22.45"/>
<rect x="962.3" y="604.7" width="21.55" height="22.45"/>
<rect x="1005.4" y="604.7" width="21.55" height="22.45"/>
<rect x="1070.05" y="604.7" width="21.55" height="22.45"/>
<rect x="1156.25" y="604.7" width="21.55" height="22.45"/>
<rect x="1156.25" y="716.95" width="21.55" height="22.45"/>
</clipPath>
<path d="M445.1 267.95L466.65 290.4M445.1 290.4L466.65 267.95M552.85 267.95L574.4 290.4M552.85 290.4L574.4 267.95M574.4 267.95L595.95 290.4M574.4 290.4L595.95 267.95M595.95 267.95L617.5 290.4M595.95 290.4L617.5 267.95M617.5 267.95L639.05 290.4M617.5 290.4L639.05 267.95M682.15 267.95L703.7 290.4M682.15 290.4L703.7 267.95M746.8 267.95L768.35 290.4M746.8 290.4L768.35 267.95M789.9 267.95L811.45 290.4M789.9 290.4L811.45 267.95M854.55 267.95L876.1 290.4M854.55 290.4L876.1 267.95M897.65 267.95L919.2 290.4M897.65 290.4L919.2 267.95M919.2 267.95L940.75 290.4M919.2 290.4L940.75 267.95M940.75 267.95L962.3 290.4M940.75 290.4L962.3 267.95M1005.4 267.95L1026.95 290.4M1005.4 290.4L1026.95 267.95M1048.5 267.95L1070.05 290.4M1048.5 290.4L1070.05 267.95M1070.05 267.95L1091.6 290.4M1070.05 290.4L1091.6 267.95M1091.6 267.95L1113.15 290.4M1091.6 290.4L1113.15 267.95M1134.7 267.95L1156.25 290.4M1134.7 290.4L1156.25 267.95M1156.25 267.95L1177.8 290.4M1156.25 290.4L1177.8 267.95M595.95 380.2L617.5 402.65M595.95 402.65L617.5 380.2M789.9 380.2L811.45 402.65M789.9 402.65L811.45 380.2M854.55 380.2L876.1 402.65M854.55 402.65L876.1 380.2M897.65 380.2L919.2 402.65M897.65 402.65L919.2 380.2M940.75 380.2L962.3 402.65M940.75 402.65L962.3 380.2M1156.25 402.65L1177.8 425.1M1156.25 425.1L1177.8 402.65M445.1 425.1L466.65 447.55M445.1 447.55L466.65 425.1M552.85 425.1L574.4 447.55M552.85 447.55L574.4 425.1M595.95 425.1L617.5 447.55M595.95 447.55L617.5 425.1M617.5 425.1L639.05 447.55M617.5 447.55L639.05 425.1M682.15 425.1L703.7 447.55M682.15 447.55L703.7 425.1M746.8 425.1L768.35 447.55M746.8 447.55L768.35 425.1M789.9 425.1L811.45 447.55M789.9 447.55L811.45 425.1M811.45 425.1L833 447.55M811.45 447.55L833 425.1M854.55 425.1L876.1 447.55M854.55 447.55L876.1 425.1M897.65 425.1L919.2 447.55M897.65 447.55L919.2 425.1M919.2 425.1L940.75 447.55M919.2 447.55L940.75 425.1M940.75 425.1L962.3 447.55M940.75 447.55L962.3 425.1M1005.4 425.1L1026.95 447.55M1005.4 447.55L1026.95 425.1M1026.95 425.1L1048.5 447.55M1026.95 447.55L1048.5 425.1M1048.5 425.1L1070.05 447.55M1048.5 447.55L1070.05 425.1M1091.6 425.1L1113.15 447.55M1091.6 447.55L1113.15 425.1M1113.15 425.1L1134.7 447.55M1113.15 447.55L1134.7 425.1M1134.7 425.1L1156.25 447.55M1134.7 447.55L1156.25 425.1M1156.25 425.1L1177.8 447.55M1156.25 447.55L1177.8 425.1M445.1 514.9L466.65 537.35M445.1 537.35L466.65 514.9M552.85 514.9L574.4 537.35M552.85 537.35L574.4 514.9M595.95 514.9L617.5 537.35M595.95 537.35L617.5 514.9M617.5 514.9L639.05 537.35M617.5 537.35L639.05 514.9M682.15 514.9L703.7 537.35M682.15 537.35L703.7 514.9M746.8 514.9L768.35 537.35M746.8 537.35L768.35 514.9M789.9 514.9L811.45 537.35M789.9 537.35L811.45 514.9M854.55 514.9L876.1 537.35M854.55 537.35L876.1 514.9M897.65 514.9L919.2 537.35M897.65 537.35L919.2 514.9M919.2 514.9L940.75 537.35M919.2 537.35L940.75 514.9M940.75 514.9L962.3 537.35M940.75 537.35L962.3 514.9M1005.4 514.9L1026.95 537.35M1005.4 537.35L1026.95 514.9M1048.5 514.9L1070.05 537.35M1048.5 537.35L1070.05 514.9M1070.05 514.9L1091.6 537.35M1070.05 537.35L1091.6 514.9M1091.6 514.9L1113.15 537.35M1091.6 537.35L1113.15 514.9M1134.7 514.9L1156.25 537.35M1134.7 537.35L1156.25 514.9M660.6 604.7L682.15 627.15M660.6 627.15L682.15 604.7M789.9 604.7L811.45 627.15M789.9 627.15L811.45 604.7M811.45 604.7L833 627.15M811.45 627.15L833 604.7M833 604.7L854.55 627.15M833 627.15L854.55 604.7M897.65 604.7L919.2 627.15M897.65 627.15L919.2 604.7M940.75 604.7L962.3 627.15M940.75 627.15L962.3 604.7M962.3 604.7L983.85 627.15M962.3 627.15L983.85 604.7M1005.4 604.7L1026.95 627.15M1005.4 627.15L1026.95 604.7M1070.05 604.7L1091.6 627.15M1070.05 627.15L1091.6 604.7M1156.25 604.7L1177.8 627.15M1156.25 627.15L1177.8 604.7M1156.25 716.95L1177.8 739.4M1156.25 739.4L1177.8 716.95" stroke="#d0d0d0" stroke-width="2.2" fill="none" clip-path="url(#nc)"/>
<g stroke="#000" stroke-width="3.3" fill="none">
<path d="M402.5 256.73H388.5"/>
<path d="M402.5 279.18H388.5"/>
<path d="M402.5 301.62H388.5"/>
<path d="M402.5 324.07H388.5"/>
<path d="M402.5 346.52H388.5"/>
<path d="M402.5 368.98H388.5"/>
<path d="M402.5 391.42H388.5"/>
<path d="M402.5 413.88H388.5"/>
<path d="M402.5 436.32H388.5"/>
<path d="M402.5 458.77H388.5"/>
<path d="M402.5 481.23H388.5"/>
<path d="M402.5 503.68H388.5"/>
<path d="M402.5 526.12H388.5"/>
<path d="M402.5 548.58H388.5"/>
<path d="M402.5 571.02H388.5"/>
<path d="M402.5 593.47H388.5"/>
<path d="M402.5 615.92H388.5"/>
<path d="M402.5 638.38H388.5"/>
<path d="M402.5 660.83H388.5"/>
<path d="M402.5 683.27H388.5"/>
<path d="M402.5 705.72H388.5"/>
<path d="M402.5 728.17H388.5"/>
<path d="M402.5 750.62H388.5"/>
<path d="M402.5 773.07H388.5"/>
<path d="M402.5 795.52H388.5"/>
<path d="M402.5 817.98H388.5"/>
<path d="M402.5 840.42H388.5"/>
<path d="M402.5 862.88H388.5"/>
<path d="M402.5 885.32H388.5"/>
<path d="M402.5 907.77H388.5"/>
<path d="M402.5 930.23H388.5"/>
<path d="M402.5 952.67H388.5"/>
</g>
<path d="M445.1 245.5V963.9M488.2 245.5V963.9M531.3 245.5V963.9M574.4 245.5V963.9M617.5 245.5V963.9M660.6 245.5V963.9M682.15 245.5V963.9M725.25 245.5V963.9M768.35 245.5V963.9M811.45 245.5V963.9M854.55 245.5V963.9M897.65 245.5V963.9M940.75 245.5V963.9M962.3 245.5V963.9M1005.4 245.5V963.9M1048.5 245.5V963.9M1091.6 245.5V963.9M1134.7 245.5V963.9M1177.8 245.5V963.9M1220.9 245.5V963.9M1242.45 245.5V963.9" stroke="#fff" stroke-opacity="0.12" stroke-width="1" fill="none"/>
<defs><linearGradient id="cb" x1="0" y1="1" x2="0" y2="0">
<stop offset="0%" stop-color="#000004"/>
<stop offset="1.56%" stop-color="#020109"/>
<stop offset="3.12%" stop-color="#030312"/>
<stop offset="4.69%" stop-color="#06051a"/>
<stop offset="6.25%" stop-color="#0a0822"/>
<stop offset="7.81%" stop-color="#0e0b2b"/>
<stop offset="9.38%" stop-color="#130d34"/>
<stop offset="10.94%" stop-color="#180f3d"/>
<stop offset="12.5%" stop-color="#1d1147"/>
<stop offset="14.06%" stop-color="#221150"/>
<stop offset="15.62%" stop-color="#29115a"/>
<stop offset="17.19%" stop-color="#2f1163"/>
<stop offset="18.75%" stop-color="#36106b"/>
<stop offset="20.31%" stop-color="#3d0f71"/>
<stop offset="21.88%" stop-color="#440f76"/>
<stop offset="23.44%" stop-color="#4a1079"/>
<stop offset="25%" stop-color="#51127c"/>
<stop offset="26.56%" stop-color="#57157e"/>
<stop offset="28.12%" stop-color="#5d177f"/>
<stop offset="29.69%" stop-color="#641a80"/>
<stop offset="31.25%" stop-color="#6a1c81"/>
<stop offset="32.81%" stop-color="#701f81"/>
<stop offset="34.38%" stop-color="#762181"/>
<stop offset="35.94%" stop-color="#7c2382"/>
<stop offset="37.5%" stop-color="#832681"/>
<stop offset="39.06%" stop-color="#892881"/>
<stop offset="40.62%" stop-color="#902a81"/>
<stop offset="42.19%" stop-color="#962c80"/>
<stop offset="43.75%" stop-color="#9c2e7f"/>
<stop offset="45.31%" stop-color="#a3307e"/>
<stop offset="46.88%" stop-color="#aa337d"/>
<stop offset="48.44%" stop-color="#b0357b"/>
<stop offset="50%" stop-color="#b73779"/>
<stop offset="51.56%" stop-color="#bd3977"/>
<stop offset="53.12%" stop-color="#c43c75"/>
<stop offset="54.69%" stop-color="#ca3e72"/>
<stop offset="56.25%" stop-color="#d0416f"/>
<stop offset="57.81%" stop-color="#d6456c"/>
<stop offset="59.38%" stop-color="#dc4869"/>
<stop offset="60.94%" stop-color="#e24d66"/>
<stop offset="62.5%" stop-color="#e75263"/>
<stop offset="64.06%" stop-color="#eb5760"/>
<stop offset="65.62%" stop-color="#ef5d5e"/>
<stop offset="67.19%" stop-color="#f2645c"/>
<stop offset="68.75%" stop-color="#f56b5c"/>
<stop offset="70.31%" stop-color="#f7725c"/>
<stop offset="71.88%" stop-color="#f9795d"/>
<stop offset="73.44%" stop-color="#fa815f"/>
<stop offset="75%" stop-color="#fc8961"/>
<stop offset="76.56%" stop-color="#fc9065"/>
<stop offset="78.12%" stop-color="#fd9869"/>
<stop offset="79.69%" stop-color="#fe9f6d"/>
<stop offset="81.25%" stop-color="#fea772"/>
<stop offset="82.81%" stop-color="#feae77"/>
<stop offset="84.38%" stop-color="#feb67c"/>
<stop offset="85.94%" stop-color="#febd82"/>
<stop offset="87.5%" stop-color="#fec488"/>
<stop offset="89.06%" stop-color="#fecc8f"/>
<stop offset="90.62%" stop-color="#fed395"/>
<stop offset="92.19%" stop-color="#fdda9c"/>
<stop offset="93.75%" stop-color="#fde2a3"/>
<stop offset="95.31%" stop-color="#fde9aa"/>
<stop offset="96.88%" stop-color="#fcf0b2"/>
<stop offset="98.44%" stop-color="#fcf7b9"/>
<stop offset="100%" stop-color="#fcfdbf"/>
</linearGradient></defs>
<rect x="1369.9" y="244.4" width="44.8" height="719.5" fill="url(#cb)"/>
<g stroke="#000" stroke-width="3.3" fill="none">
<path d="M1414 245.5H1427.3"/>
<path d="M1414 389.18H1427.3"/>
<path d="M1414 532.86H1427.3"/>
<path d="M1414 676.54H1427.3"/>
<path d="M1414 820.22H1427.3"/>
<path d="M1414 963.9H1427.3"/>
</g>
<g class="tx">
<g class="t" text-anchor="end">
<text x="375.4" y="13.75">1.0</text>
<text x="375.4" y="56.8">0.9</text>
<text x="375.4" y="99.85">0.8</text>
<text x="375.4" y="142.9">0.7</text>
<text x="375.4" y="185.95">0.6</text>
<text x="375.4" y="229">0.5</text>
</g>
<text class="l" text-anchor="middle" transform="translate(329.2 114.4) rotate(-90)">Mean DSC</text>
<g class="t" text-anchor="middle">
<text x="98.7" y="1005.2">200</text>
<text x="197.1" y="1005.2">100</text>
<text x="295.6" y="1005.2">0</text>
</g>
<text class="l" text-anchor="middle" x="166.3" y="1041.2">#test cases</text>
<text class="l" text-anchor="middle" transform="translate(17.5 604.5) rotate(-90)">Institution ID</text>
<g class="t">
<text x="338.2" y="263.73">4</text>
<text x="338.2" y="286.18">11</text>
<text x="338.2" y="308.62">27</text>
<text x="338.2" y="331.07">28</text>
<text x="338.2" y="353.52">22</text>
<text x="338.2" y="375.98">7</text>
<text x="338.2" y="398.42">33</text>
<text x="338.2" y="420.88">23</text>
<text x="338.2" y="443.32">16</text>
<text x="338.2" y="465.77">26</text>
<text x="338.2" y="488.23">35</text>
<text x="338.2" y="510.68">18</text>
<text x="338.2" y="533.12">37</text>
<text x="338.2" y="555.58">10</text>
<text x="338.2" y="578.02">34</text>
<text x="338.2" y="600.47">13</text>
<text x="338.2" y="622.92">36</text>
<text x="338.2" y="645.38">20</text>
<text x="338.2" y="667.83">14</text>
<text x="338.2" y="690.27">15</text>
<text x="338.2" y="712.72">6</text>
<text x="338.2" y="735.17">24</text>
<text x="338.2" y="757.62">8</text>
<text x="338.2" y="780.07">30</text>
<text x="338.2" y="802.52">17</text>
<text x="338.2" y="824.98">21</text>
<text x="338.2" y="847.42">29</text>
<text x="338.2" y="869.88">9</text>
<text x="338.2" y="892.32">12</text>
<text x="338.2" y="914.77">31</text>
<text x="338.2" y="937.23">19</text>
<text x="338.2" y="959.67">32</text>
</g>
<g class="t" text-anchor="end">
<text transform="translate(504.48 990.85) rotate(-90)">10</text>
<text transform="translate(719.98 990.85) rotate(-90)">54</text>
<text transform="translate(741.53 990.85) rotate(-90)">11</text>
<text transform="translate(978.58 990.85) rotate(-90)">8</text>
<text transform="translate(1000.12 990.85) rotate(-90)">12</text>
</g>
<text class="l" text-anchor="middle" x="833.2" y="1044.6">Model ID</text>
<g class="t">
<text x="1440.2" y="252.5">1.0</text>
<text x="1440.2" y="396.18">0.9</text>
<text x="1440.2" y="539.86">0.8</text>
<text x="1440.2" y="683.54">0.7</text>
<text x="1440.2" y="827.22">0.6</text>
<text x="1440.2" y="970.9">0.5</text>
</g>
<text class="l" text-anchor="middle" transform="translate(1500.6 605) rotate(-90)">Mean DSC</text>
</g>
</svg></body></html>
